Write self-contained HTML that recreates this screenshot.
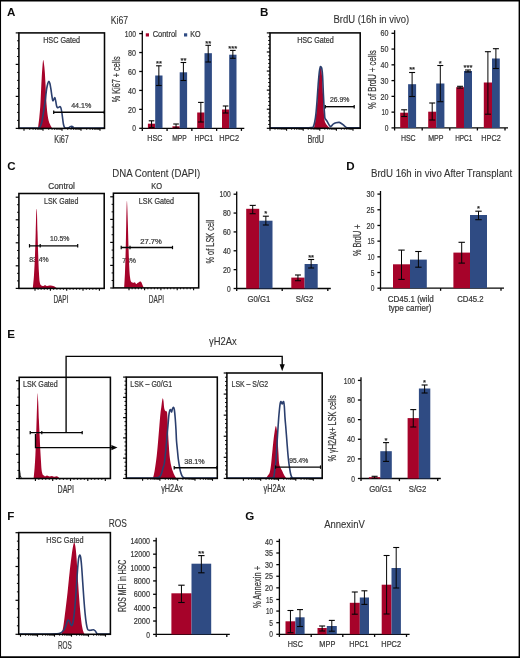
<!DOCTYPE html>
<html><head><meta charset="utf-8"><style>
html,body{margin:0;padding:0;background:#fff;}
body{position:relative;width:520px;height:658px;overflow:hidden;}
.ov{position:absolute;left:0;top:0;}
svg{display:block;font-family:"Liberation Sans", sans-serif;will-change:transform;filter:blur(0.3px);}
svg.ov{filter:none;}
</style></head><body>
<svg width="520" height="658" viewBox="0 0 520 658">
<rect x="0" y="0" width="520" height="658" fill="#fff"/>
<text x="6.90" y="16.20" font-size="11.6" text-anchor="start" fill="#0e0e0e" font-weight="bold">A</text>
<path d="M38.00,128.40 C38.22,126.60 38.92,121.33 39.30,117.60 C39.68,113.87 40.02,110.27 40.30,106.00 C40.58,101.73 40.77,96.67 41.00,92.00 C41.23,87.33 41.45,82.33 41.70,78.00 C41.95,73.67 42.25,68.98 42.50,66.00 C42.75,63.02 42.95,60.43 43.20,60.10 C43.45,59.77 43.73,62.02 44.00,64.00 C44.27,65.98 44.57,69.00 44.80,72.00 C45.03,75.00 45.22,78.67 45.40,82.00 C45.58,85.33 45.70,88.17 45.90,92.00 C46.10,95.83 46.32,101.17 46.60,105.00 C46.88,108.83 47.22,112.25 47.60,115.00 C47.98,117.75 48.43,119.80 48.90,121.50 C49.37,123.20 49.83,124.05 50.40,125.20 C50.97,126.35 51.98,127.87 52.30,128.40 Z" fill="#a6032a"/>
<path d="M19.60,128.00 C22.42,128.00 33.18,128.07 36.50,128.00 C39.82,127.93 38.65,128.43 39.50,127.60 C40.35,126.77 40.93,125.60 41.60,123.00 C42.27,120.40 42.90,115.73 43.50,112.00 C44.10,108.27 44.68,104.40 45.20,100.60 C45.72,96.80 46.17,92.05 46.60,89.20 C47.03,86.35 47.42,84.80 47.80,83.50 C48.18,82.20 48.55,81.40 48.90,81.40 C49.25,81.40 49.57,82.23 49.90,83.50 C50.23,84.77 50.57,86.92 50.90,89.00 C51.23,91.08 51.58,94.07 51.90,96.00 C52.22,97.93 52.48,100.03 52.80,100.60 C53.12,101.17 53.45,99.88 53.80,99.40 C54.15,98.92 54.57,97.35 54.90,97.70 C55.23,98.05 55.52,100.12 55.80,101.50 C56.08,102.88 56.33,104.98 56.60,106.00 C56.87,107.02 57.10,107.37 57.40,107.60 C57.70,107.83 58.07,107.52 58.40,107.40 C58.73,107.28 59.08,107.02 59.40,106.90 C59.72,106.78 60.02,106.42 60.30,106.70 C60.58,106.98 60.83,107.55 61.10,108.60 C61.37,109.65 61.63,111.27 61.90,113.00 C62.17,114.73 62.43,117.08 62.70,119.00 C62.97,120.92 63.18,123.07 63.50,124.50 C63.82,125.93 64.10,127.02 64.60,127.60 C65.10,128.18 65.85,127.97 66.50,128.00 C67.15,128.03 67.87,128.03 68.50,127.80 C69.13,127.57 69.77,126.87 70.30,126.60 C70.83,126.33 71.25,126.17 71.70,126.20 C72.15,126.23 72.55,126.50 73.00,126.80 C73.45,127.10 69.23,127.80 74.40,128.00 C79.57,128.20 99.07,128.00 104.00,128.00" fill="none" stroke="#2b3f6e" stroke-width="1.6" stroke-linejoin="round" stroke-linecap="round"/>
<rect x="18.90" y="32.90" width="85.60" height="95.50" fill="none" stroke="#050505" stroke-width="1.55"/>
<line x1="15.70" y1="32.90" x2="18.90" y2="32.90" stroke="#050505" stroke-width="1.2"/>
<line x1="17.10" y1="40.77" x2="18.90" y2="40.77" stroke="#050505" stroke-width="1.0"/>
<line x1="17.10" y1="48.65" x2="18.90" y2="48.65" stroke="#050505" stroke-width="1.0"/>
<line x1="17.10" y1="56.53" x2="18.90" y2="56.53" stroke="#050505" stroke-width="1.0"/>
<line x1="15.70" y1="64.40" x2="18.90" y2="64.40" stroke="#050505" stroke-width="1.2"/>
<line x1="17.10" y1="72.40" x2="18.90" y2="72.40" stroke="#050505" stroke-width="1.0"/>
<line x1="17.10" y1="80.40" x2="18.90" y2="80.40" stroke="#050505" stroke-width="1.0"/>
<line x1="17.10" y1="88.40" x2="18.90" y2="88.40" stroke="#050505" stroke-width="1.0"/>
<line x1="15.70" y1="96.40" x2="18.90" y2="96.40" stroke="#050505" stroke-width="1.2"/>
<line x1="17.10" y1="104.40" x2="18.90" y2="104.40" stroke="#050505" stroke-width="1.0"/>
<line x1="17.10" y1="112.40" x2="18.90" y2="112.40" stroke="#050505" stroke-width="1.0"/>
<line x1="17.10" y1="120.40" x2="18.90" y2="120.40" stroke="#050505" stroke-width="1.0"/>
<line x1="15.70" y1="128.40" x2="18.90" y2="128.40" stroke="#050505" stroke-width="1.2"/>
<line x1="24.00" y1="128.40" x2="24.00" y2="130.80" stroke="#050505" stroke-width="1.1"/>
<line x1="43.00" y1="128.40" x2="43.00" y2="130.80" stroke="#050505" stroke-width="1.1"/>
<line x1="62.00" y1="128.40" x2="62.00" y2="130.80" stroke="#050505" stroke-width="1.1"/>
<line x1="81.00" y1="128.40" x2="81.00" y2="130.80" stroke="#050505" stroke-width="1.1"/>
<line x1="100.00" y1="128.40" x2="100.00" y2="130.80" stroke="#050505" stroke-width="1.1"/>
<line x1="29.72" y1="128.40" x2="29.72" y2="129.80" stroke="#050505" stroke-width="0.9"/>
<line x1="33.07" y1="128.40" x2="33.07" y2="129.80" stroke="#050505" stroke-width="0.9"/>
<line x1="35.44" y1="128.40" x2="35.44" y2="129.80" stroke="#050505" stroke-width="0.9"/>
<line x1="37.28" y1="128.40" x2="37.28" y2="129.80" stroke="#050505" stroke-width="0.9"/>
<line x1="38.78" y1="128.40" x2="38.78" y2="129.80" stroke="#050505" stroke-width="0.9"/>
<line x1="40.06" y1="128.40" x2="40.06" y2="129.80" stroke="#050505" stroke-width="0.9"/>
<line x1="41.16" y1="128.40" x2="41.16" y2="129.80" stroke="#050505" stroke-width="0.9"/>
<line x1="42.13" y1="128.40" x2="42.13" y2="129.80" stroke="#050505" stroke-width="0.9"/>
<line x1="48.72" y1="128.40" x2="48.72" y2="129.80" stroke="#050505" stroke-width="0.9"/>
<line x1="52.07" y1="128.40" x2="52.07" y2="129.80" stroke="#050505" stroke-width="0.9"/>
<line x1="54.44" y1="128.40" x2="54.44" y2="129.80" stroke="#050505" stroke-width="0.9"/>
<line x1="56.28" y1="128.40" x2="56.28" y2="129.80" stroke="#050505" stroke-width="0.9"/>
<line x1="57.78" y1="128.40" x2="57.78" y2="129.80" stroke="#050505" stroke-width="0.9"/>
<line x1="59.06" y1="128.40" x2="59.06" y2="129.80" stroke="#050505" stroke-width="0.9"/>
<line x1="60.16" y1="128.40" x2="60.16" y2="129.80" stroke="#050505" stroke-width="0.9"/>
<line x1="61.13" y1="128.40" x2="61.13" y2="129.80" stroke="#050505" stroke-width="0.9"/>
<line x1="67.72" y1="128.40" x2="67.72" y2="129.80" stroke="#050505" stroke-width="0.9"/>
<line x1="71.07" y1="128.40" x2="71.07" y2="129.80" stroke="#050505" stroke-width="0.9"/>
<line x1="73.44" y1="128.40" x2="73.44" y2="129.80" stroke="#050505" stroke-width="0.9"/>
<line x1="75.28" y1="128.40" x2="75.28" y2="129.80" stroke="#050505" stroke-width="0.9"/>
<line x1="76.78" y1="128.40" x2="76.78" y2="129.80" stroke="#050505" stroke-width="0.9"/>
<line x1="78.06" y1="128.40" x2="78.06" y2="129.80" stroke="#050505" stroke-width="0.9"/>
<line x1="79.16" y1="128.40" x2="79.16" y2="129.80" stroke="#050505" stroke-width="0.9"/>
<line x1="80.13" y1="128.40" x2="80.13" y2="129.80" stroke="#050505" stroke-width="0.9"/>
<line x1="86.72" y1="128.40" x2="86.72" y2="129.80" stroke="#050505" stroke-width="0.9"/>
<line x1="90.07" y1="128.40" x2="90.07" y2="129.80" stroke="#050505" stroke-width="0.9"/>
<line x1="92.44" y1="128.40" x2="92.44" y2="129.80" stroke="#050505" stroke-width="0.9"/>
<line x1="94.28" y1="128.40" x2="94.28" y2="129.80" stroke="#050505" stroke-width="0.9"/>
<line x1="95.78" y1="128.40" x2="95.78" y2="129.80" stroke="#050505" stroke-width="0.9"/>
<line x1="97.06" y1="128.40" x2="97.06" y2="129.80" stroke="#050505" stroke-width="0.9"/>
<line x1="98.16" y1="128.40" x2="98.16" y2="129.80" stroke="#050505" stroke-width="0.9"/>
<line x1="99.13" y1="128.40" x2="99.13" y2="129.80" stroke="#050505" stroke-width="0.9"/>
<text x="61.65" y="43.10" font-size="8.3" text-anchor="middle" fill="#3a3a3a" stroke="#3a3a3a" stroke-width="0.24" font-weight="normal" textLength="37.00" lengthAdjust="spacingAndGlyphs">HSC Gated</text>
<line x1="53.70" y1="112.20" x2="104.30" y2="112.20" stroke="#050505" stroke-width="1.35"/>
<line x1="53.70" y1="110.50" x2="53.70" y2="113.90" stroke="#050505" stroke-width="1.2"/>
<line x1="104.30" y1="110.50" x2="104.30" y2="113.90" stroke="#050505" stroke-width="1.2"/>
<text x="81.25" y="107.60" font-size="7.6" text-anchor="middle" fill="#3a3a3a" stroke="#3a3a3a" stroke-width="0.24" font-weight="normal" textLength="20.20" lengthAdjust="spacingAndGlyphs">44.1%</text>
<text x="61.60" y="142.70" font-size="10.5" text-anchor="middle" fill="#3a3a3a" stroke="#3a3a3a" stroke-width="0.24" font-weight="normal" textLength="14.50" lengthAdjust="spacingAndGlyphs">Ki67</text>
<text x="119.45" y="23.70" font-size="10.0" text-anchor="middle" fill="#333333" stroke="#333333" stroke-width="0.1" font-weight="normal" textLength="17.40" lengthAdjust="spacingAndGlyphs">Ki67</text>
<line x1="142.30" y1="30.80" x2="142.30" y2="128.30" stroke="#050505" stroke-width="1.3"/>
<line x1="139.20" y1="128.30" x2="142.30" y2="128.30" stroke="#050505" stroke-width="1.3"/>
<text x="136.00" y="131.46" font-size="9.2" text-anchor="end" fill="#3a3a3a" stroke="#3a3a3a" stroke-width="0.24" font-weight="normal" textLength="3.70" lengthAdjust="spacingAndGlyphs">0</text>
<line x1="139.20" y1="109.36" x2="142.30" y2="109.36" stroke="#050505" stroke-width="1.3"/>
<text x="136.00" y="112.52" font-size="9.2" text-anchor="end" fill="#3a3a3a" stroke="#3a3a3a" stroke-width="0.24" font-weight="normal" textLength="7.90" lengthAdjust="spacingAndGlyphs">20</text>
<line x1="139.20" y1="90.42" x2="142.30" y2="90.42" stroke="#050505" stroke-width="1.3"/>
<text x="136.00" y="93.58" font-size="9.2" text-anchor="end" fill="#3a3a3a" stroke="#3a3a3a" stroke-width="0.24" font-weight="normal" textLength="7.90" lengthAdjust="spacingAndGlyphs">40</text>
<line x1="139.20" y1="71.48" x2="142.30" y2="71.48" stroke="#050505" stroke-width="1.3"/>
<text x="136.00" y="74.64" font-size="9.2" text-anchor="end" fill="#3a3a3a" stroke="#3a3a3a" stroke-width="0.24" font-weight="normal" textLength="7.90" lengthAdjust="spacingAndGlyphs">60</text>
<line x1="139.20" y1="52.54" x2="142.30" y2="52.54" stroke="#050505" stroke-width="1.3"/>
<text x="136.00" y="55.70" font-size="9.2" text-anchor="end" fill="#3a3a3a" stroke="#3a3a3a" stroke-width="0.24" font-weight="normal" textLength="7.90" lengthAdjust="spacingAndGlyphs">80</text>
<line x1="139.20" y1="33.60" x2="142.30" y2="33.60" stroke="#050505" stroke-width="1.3"/>
<text x="136.00" y="36.76" font-size="9.2" text-anchor="end" fill="#3a3a3a" stroke="#3a3a3a" stroke-width="0.24" font-weight="normal" textLength="11.20" lengthAdjust="spacingAndGlyphs">100</text>
<line x1="142.30" y1="128.30" x2="244.30" y2="128.30" stroke="#050505" stroke-width="1.3"/>
<line x1="142.30" y1="128.30" x2="142.30" y2="130.90" stroke="#050505" stroke-width="1.3"/>
<line x1="167.08" y1="128.30" x2="167.08" y2="130.90" stroke="#050505" stroke-width="1.3"/>
<line x1="191.86" y1="128.30" x2="191.86" y2="130.90" stroke="#050505" stroke-width="1.3"/>
<line x1="216.64" y1="128.30" x2="216.64" y2="130.90" stroke="#050505" stroke-width="1.3"/>
<line x1="241.42" y1="128.30" x2="241.42" y2="130.90" stroke="#050505" stroke-width="1.3"/>
<text x="0" y="0" font-size="10.3" text-anchor="middle" fill="#3a3a3a" stroke="#3a3a3a" stroke-width="0.24" textLength="45.70" lengthAdjust="spacingAndGlyphs" transform="translate(119.60 79.35) rotate(-90)">% Ki67 + cells</text>
<rect x="147.90" y="123.70" width="7.30" height="4.60" fill="#a6032a"/>
<line x1="151.55" y1="120.80" x2="151.55" y2="127.50" stroke="#050505" stroke-width="1.0"/>
<line x1="148.75" y1="120.80" x2="154.35" y2="120.80" stroke="#050505" stroke-width="1.1"/>
<line x1="148.75" y1="127.50" x2="154.35" y2="127.50" stroke="#050505" stroke-width="1.1"/>
<rect x="155.20" y="75.50" width="7.30" height="52.80" fill="#2f4b83"/>
<line x1="158.85" y1="65.80" x2="158.85" y2="85.50" stroke="#050505" stroke-width="1.0"/>
<line x1="156.05" y1="65.80" x2="161.65" y2="65.80" stroke="#050505" stroke-width="1.1"/>
<line x1="156.05" y1="85.50" x2="161.65" y2="85.50" stroke="#050505" stroke-width="1.1"/>
<rect x="172.40" y="126.30" width="7.30" height="2.00" fill="#a6032a"/>
<line x1="176.05" y1="124.00" x2="176.05" y2="128.00" stroke="#050505" stroke-width="1.0"/>
<line x1="173.25" y1="124.00" x2="178.85" y2="124.00" stroke="#050505" stroke-width="1.1"/>
<line x1="173.25" y1="128.00" x2="178.85" y2="128.00" stroke="#050505" stroke-width="1.1"/>
<rect x="179.70" y="72.30" width="7.40" height="56.00" fill="#2f4b83"/>
<line x1="183.40" y1="62.50" x2="183.40" y2="80.50" stroke="#050505" stroke-width="1.0"/>
<line x1="180.60" y1="62.50" x2="186.20" y2="62.50" stroke="#050505" stroke-width="1.1"/>
<line x1="180.60" y1="80.50" x2="186.20" y2="80.50" stroke="#050505" stroke-width="1.1"/>
<rect x="197.20" y="112.50" width="7.30" height="15.80" fill="#a6032a"/>
<line x1="200.85" y1="102.40" x2="200.85" y2="122.00" stroke="#050505" stroke-width="1.0"/>
<line x1="198.05" y1="102.40" x2="203.65" y2="102.40" stroke="#050505" stroke-width="1.1"/>
<line x1="198.05" y1="122.00" x2="203.65" y2="122.00" stroke="#050505" stroke-width="1.1"/>
<rect x="204.50" y="53.20" width="7.40" height="75.10" fill="#2f4b83"/>
<line x1="208.20" y1="45.30" x2="208.20" y2="62.00" stroke="#050505" stroke-width="1.0"/>
<line x1="205.40" y1="45.30" x2="211.00" y2="45.30" stroke="#050505" stroke-width="1.1"/>
<line x1="205.40" y1="62.00" x2="211.00" y2="62.00" stroke="#050505" stroke-width="1.1"/>
<rect x="222.00" y="109.50" width="7.20" height="18.80" fill="#a6032a"/>
<line x1="225.60" y1="106.00" x2="225.60" y2="113.00" stroke="#050505" stroke-width="1.0"/>
<line x1="222.80" y1="106.00" x2="228.40" y2="106.00" stroke="#050505" stroke-width="1.1"/>
<line x1="222.80" y1="113.00" x2="228.40" y2="113.00" stroke="#050505" stroke-width="1.1"/>
<rect x="229.20" y="54.70" width="7.30" height="73.60" fill="#2f4b83"/>
<line x1="232.85" y1="50.40" x2="232.85" y2="58.30" stroke="#050505" stroke-width="1.0"/>
<line x1="230.05" y1="50.40" x2="235.65" y2="50.40" stroke="#050505" stroke-width="1.1"/>
<line x1="230.05" y1="58.30" x2="235.65" y2="58.30" stroke="#050505" stroke-width="1.1"/>
<text x="158.90" y="65.95" font-size="7.6" text-anchor="middle" fill="#222" stroke="#222" stroke-width="0.24" font-weight="normal">**</text>
<text x="183.40" y="62.95" font-size="7.6" text-anchor="middle" fill="#222" stroke="#222" stroke-width="0.24" font-weight="normal">**</text>
<text x="208.20" y="45.75" font-size="7.6" text-anchor="middle" fill="#222" stroke="#222" stroke-width="0.24" font-weight="normal">**</text>
<text x="232.80" y="50.75" font-size="7.6" text-anchor="middle" fill="#222" stroke="#222" stroke-width="0.24" font-weight="normal">***</text>
<rect x="145.80" y="33.30" width="3.20" height="3.20" fill="#a6032a"/>
<text x="164.70" y="37.40" font-size="8.3" text-anchor="middle" fill="#3a3a3a" stroke="#3a3a3a" stroke-width="0.24" font-weight="normal" textLength="24.10" lengthAdjust="spacingAndGlyphs">Control</text>
<rect x="184.00" y="33.30" width="3.20" height="3.20" fill="#2f4b83"/>
<text x="195.30" y="37.40" font-size="8.3" text-anchor="middle" fill="#3a3a3a" stroke="#3a3a3a" stroke-width="0.24" font-weight="normal" textLength="10.30" lengthAdjust="spacingAndGlyphs">KO</text>
<text x="154.85" y="140.90" font-size="8.3" text-anchor="middle" fill="#3a3a3a" stroke="#3a3a3a" stroke-width="0.24" font-weight="normal" textLength="15.00" lengthAdjust="spacingAndGlyphs">HSC</text>
<text x="179.40" y="140.90" font-size="8.3" text-anchor="middle" fill="#3a3a3a" stroke="#3a3a3a" stroke-width="0.24" font-weight="normal" textLength="14.50" lengthAdjust="spacingAndGlyphs">MPP</text>
<text x="203.90" y="140.90" font-size="8.3" text-anchor="middle" fill="#3a3a3a" stroke="#3a3a3a" stroke-width="0.24" font-weight="normal" textLength="18.70" lengthAdjust="spacingAndGlyphs">HPC1</text>
<text x="229.20" y="140.90" font-size="8.3" text-anchor="middle" fill="#3a3a3a" stroke="#3a3a3a" stroke-width="0.24" font-weight="normal" textLength="19.70" lengthAdjust="spacingAndGlyphs">HPC2</text>
<text x="260.00" y="16.20" font-size="11.6" text-anchor="start" fill="#0e0e0e" font-weight="bold">B</text>
<path d="M313.90,128.20 C314.10,127.25 314.78,124.37 315.10,122.50 C315.42,120.63 315.48,119.82 315.80,117.00 C316.12,114.18 316.62,110.35 317.00,105.60 C317.38,100.85 317.78,93.27 318.10,88.50 C318.42,83.73 318.60,80.17 318.90,77.00 C319.20,73.83 319.60,71.10 319.90,69.50 C320.20,67.90 320.45,67.40 320.70,67.40 C320.95,67.40 321.17,67.90 321.40,69.50 C321.63,71.10 321.90,74.25 322.10,77.00 C322.30,79.75 322.45,83.13 322.60,86.00 C322.75,88.87 322.80,89.98 323.00,94.20 C323.20,98.42 323.57,107.13 323.80,111.30 C324.03,115.47 324.13,117.28 324.40,119.20 C324.67,121.12 325.00,121.83 325.40,122.80 C325.80,123.77 326.22,124.27 326.80,125.00 C327.38,125.73 328.37,126.67 328.90,127.20 C329.43,127.73 329.82,128.03 330.00,128.20 Z" fill="#a6032a"/>
<path d="M270.60,127.80 C275.50,127.80 293.18,127.83 300.00,127.80 C306.82,127.77 309.27,127.82 311.50,127.60 C313.73,127.38 312.87,127.43 313.40,126.50 C313.93,125.57 314.28,124.08 314.70,122.00 C315.12,119.92 315.50,117.67 315.90,114.00 C316.30,110.33 316.72,105.00 317.10,100.00 C317.48,95.00 317.83,88.67 318.20,84.00 C318.57,79.33 318.97,74.80 319.30,72.00 C319.63,69.20 319.92,68.07 320.20,67.20 C320.48,66.33 320.73,66.58 321.00,66.80 C321.27,67.02 321.53,66.97 321.80,68.50 C322.07,70.03 322.33,71.72 322.60,76.00 C322.87,80.28 323.17,89.20 323.40,94.20 C323.63,99.20 323.82,102.87 324.00,106.00 C324.18,109.13 324.35,111.00 324.50,113.00 C324.65,115.00 324.65,116.87 324.90,118.00 C325.15,119.13 325.62,119.22 326.00,119.80 C326.38,120.38 326.78,120.83 327.20,121.50 C327.62,122.17 328.12,123.13 328.50,123.80 C328.88,124.47 329.15,125.03 329.50,125.50 C329.85,125.97 330.22,126.58 330.60,126.60 C330.98,126.62 331.32,126.07 331.80,125.60 C332.28,125.13 332.80,124.27 333.50,123.80 C334.20,123.33 335.05,123.03 336.00,122.80 C336.95,122.57 338.37,122.33 339.20,122.40 C340.03,122.47 340.43,122.88 341.00,123.20 C341.57,123.52 342.03,123.85 342.60,124.30 C343.17,124.75 343.83,125.42 344.40,125.90 C344.97,126.38 345.45,126.88 346.00,127.20 C346.55,127.52 345.43,127.70 347.70,127.80 C349.97,127.90 357.62,127.80 359.60,127.80" fill="none" stroke="#2b3f6e" stroke-width="1.6" stroke-linejoin="round" stroke-linecap="round"/>
<rect x="270.00" y="32.90" width="90.20" height="95.40" fill="none" stroke="#050505" stroke-width="1.55"/>
<line x1="266.80" y1="32.90" x2="270.00" y2="32.90" stroke="#050505" stroke-width="1.2"/>
<line x1="268.20" y1="36.72" x2="270.00" y2="36.72" stroke="#050505" stroke-width="1.0"/>
<line x1="268.20" y1="40.53" x2="270.00" y2="40.53" stroke="#050505" stroke-width="1.0"/>
<line x1="268.20" y1="44.35" x2="270.00" y2="44.35" stroke="#050505" stroke-width="1.0"/>
<line x1="268.20" y1="48.16" x2="270.00" y2="48.16" stroke="#050505" stroke-width="1.0"/>
<line x1="266.80" y1="51.98" x2="270.00" y2="51.98" stroke="#050505" stroke-width="1.2"/>
<line x1="268.20" y1="55.80" x2="270.00" y2="55.80" stroke="#050505" stroke-width="1.0"/>
<line x1="268.20" y1="59.61" x2="270.00" y2="59.61" stroke="#050505" stroke-width="1.0"/>
<line x1="268.20" y1="63.43" x2="270.00" y2="63.43" stroke="#050505" stroke-width="1.0"/>
<line x1="268.20" y1="67.24" x2="270.00" y2="67.24" stroke="#050505" stroke-width="1.0"/>
<line x1="266.80" y1="71.06" x2="270.00" y2="71.06" stroke="#050505" stroke-width="1.2"/>
<line x1="268.20" y1="74.88" x2="270.00" y2="74.88" stroke="#050505" stroke-width="1.0"/>
<line x1="268.20" y1="78.69" x2="270.00" y2="78.69" stroke="#050505" stroke-width="1.0"/>
<line x1="268.20" y1="82.51" x2="270.00" y2="82.51" stroke="#050505" stroke-width="1.0"/>
<line x1="268.20" y1="86.32" x2="270.00" y2="86.32" stroke="#050505" stroke-width="1.0"/>
<line x1="266.80" y1="90.14" x2="270.00" y2="90.14" stroke="#050505" stroke-width="1.2"/>
<line x1="268.20" y1="93.96" x2="270.00" y2="93.96" stroke="#050505" stroke-width="1.0"/>
<line x1="268.20" y1="97.77" x2="270.00" y2="97.77" stroke="#050505" stroke-width="1.0"/>
<line x1="268.20" y1="101.59" x2="270.00" y2="101.59" stroke="#050505" stroke-width="1.0"/>
<line x1="268.20" y1="105.40" x2="270.00" y2="105.40" stroke="#050505" stroke-width="1.0"/>
<line x1="266.80" y1="109.22" x2="270.00" y2="109.22" stroke="#050505" stroke-width="1.2"/>
<line x1="268.20" y1="113.04" x2="270.00" y2="113.04" stroke="#050505" stroke-width="1.0"/>
<line x1="268.20" y1="116.85" x2="270.00" y2="116.85" stroke="#050505" stroke-width="1.0"/>
<line x1="268.20" y1="120.67" x2="270.00" y2="120.67" stroke="#050505" stroke-width="1.0"/>
<line x1="268.20" y1="124.48" x2="270.00" y2="124.48" stroke="#050505" stroke-width="1.0"/>
<line x1="266.80" y1="128.30" x2="270.00" y2="128.30" stroke="#050505" stroke-width="1.2"/>
<line x1="270.00" y1="128.30" x2="270.00" y2="130.70" stroke="#050505" stroke-width="1.1"/>
<line x1="286.60" y1="128.30" x2="286.60" y2="130.70" stroke="#050505" stroke-width="1.1"/>
<line x1="303.20" y1="128.30" x2="303.20" y2="130.70" stroke="#050505" stroke-width="1.1"/>
<line x1="319.80" y1="128.30" x2="319.80" y2="130.70" stroke="#050505" stroke-width="1.1"/>
<line x1="336.40" y1="128.30" x2="336.40" y2="130.70" stroke="#050505" stroke-width="1.1"/>
<line x1="353.00" y1="128.30" x2="353.00" y2="130.70" stroke="#050505" stroke-width="1.1"/>
<line x1="275.00" y1="128.30" x2="275.00" y2="129.70" stroke="#050505" stroke-width="0.9"/>
<line x1="277.92" y1="128.30" x2="277.92" y2="129.70" stroke="#050505" stroke-width="0.9"/>
<line x1="279.99" y1="128.30" x2="279.99" y2="129.70" stroke="#050505" stroke-width="0.9"/>
<line x1="281.60" y1="128.30" x2="281.60" y2="129.70" stroke="#050505" stroke-width="0.9"/>
<line x1="282.92" y1="128.30" x2="282.92" y2="129.70" stroke="#050505" stroke-width="0.9"/>
<line x1="284.03" y1="128.30" x2="284.03" y2="129.70" stroke="#050505" stroke-width="0.9"/>
<line x1="284.99" y1="128.30" x2="284.99" y2="129.70" stroke="#050505" stroke-width="0.9"/>
<line x1="285.84" y1="128.30" x2="285.84" y2="129.70" stroke="#050505" stroke-width="0.9"/>
<line x1="291.60" y1="128.30" x2="291.60" y2="129.70" stroke="#050505" stroke-width="0.9"/>
<line x1="294.52" y1="128.30" x2="294.52" y2="129.70" stroke="#050505" stroke-width="0.9"/>
<line x1="296.59" y1="128.30" x2="296.59" y2="129.70" stroke="#050505" stroke-width="0.9"/>
<line x1="298.20" y1="128.30" x2="298.20" y2="129.70" stroke="#050505" stroke-width="0.9"/>
<line x1="299.52" y1="128.30" x2="299.52" y2="129.70" stroke="#050505" stroke-width="0.9"/>
<line x1="300.63" y1="128.30" x2="300.63" y2="129.70" stroke="#050505" stroke-width="0.9"/>
<line x1="301.59" y1="128.30" x2="301.59" y2="129.70" stroke="#050505" stroke-width="0.9"/>
<line x1="302.44" y1="128.30" x2="302.44" y2="129.70" stroke="#050505" stroke-width="0.9"/>
<line x1="308.20" y1="128.30" x2="308.20" y2="129.70" stroke="#050505" stroke-width="0.9"/>
<line x1="311.12" y1="128.30" x2="311.12" y2="129.70" stroke="#050505" stroke-width="0.9"/>
<line x1="313.19" y1="128.30" x2="313.19" y2="129.70" stroke="#050505" stroke-width="0.9"/>
<line x1="314.80" y1="128.30" x2="314.80" y2="129.70" stroke="#050505" stroke-width="0.9"/>
<line x1="316.12" y1="128.30" x2="316.12" y2="129.70" stroke="#050505" stroke-width="0.9"/>
<line x1="317.23" y1="128.30" x2="317.23" y2="129.70" stroke="#050505" stroke-width="0.9"/>
<line x1="318.19" y1="128.30" x2="318.19" y2="129.70" stroke="#050505" stroke-width="0.9"/>
<line x1="319.04" y1="128.30" x2="319.04" y2="129.70" stroke="#050505" stroke-width="0.9"/>
<line x1="324.80" y1="128.30" x2="324.80" y2="129.70" stroke="#050505" stroke-width="0.9"/>
<line x1="327.72" y1="128.30" x2="327.72" y2="129.70" stroke="#050505" stroke-width="0.9"/>
<line x1="329.79" y1="128.30" x2="329.79" y2="129.70" stroke="#050505" stroke-width="0.9"/>
<line x1="331.40" y1="128.30" x2="331.40" y2="129.70" stroke="#050505" stroke-width="0.9"/>
<line x1="332.72" y1="128.30" x2="332.72" y2="129.70" stroke="#050505" stroke-width="0.9"/>
<line x1="333.83" y1="128.30" x2="333.83" y2="129.70" stroke="#050505" stroke-width="0.9"/>
<line x1="334.79" y1="128.30" x2="334.79" y2="129.70" stroke="#050505" stroke-width="0.9"/>
<line x1="335.64" y1="128.30" x2="335.64" y2="129.70" stroke="#050505" stroke-width="0.9"/>
<line x1="341.40" y1="128.30" x2="341.40" y2="129.70" stroke="#050505" stroke-width="0.9"/>
<line x1="344.32" y1="128.30" x2="344.32" y2="129.70" stroke="#050505" stroke-width="0.9"/>
<line x1="346.39" y1="128.30" x2="346.39" y2="129.70" stroke="#050505" stroke-width="0.9"/>
<line x1="348.00" y1="128.30" x2="348.00" y2="129.70" stroke="#050505" stroke-width="0.9"/>
<line x1="349.32" y1="128.30" x2="349.32" y2="129.70" stroke="#050505" stroke-width="0.9"/>
<line x1="350.43" y1="128.30" x2="350.43" y2="129.70" stroke="#050505" stroke-width="0.9"/>
<line x1="351.39" y1="128.30" x2="351.39" y2="129.70" stroke="#050505" stroke-width="0.9"/>
<line x1="352.24" y1="128.30" x2="352.24" y2="129.70" stroke="#050505" stroke-width="0.9"/>
<text x="315.50" y="43.10" font-size="8.3" text-anchor="middle" fill="#3a3a3a" stroke="#3a3a3a" stroke-width="0.24" font-weight="normal" textLength="36.70" lengthAdjust="spacingAndGlyphs">HSC Gated</text>
<line x1="325.30" y1="106.70" x2="354.20" y2="106.70" stroke="#050505" stroke-width="1.35"/>
<line x1="325.30" y1="105.00" x2="325.30" y2="108.40" stroke="#050505" stroke-width="1.2"/>
<line x1="354.20" y1="105.00" x2="354.20" y2="108.40" stroke="#050505" stroke-width="1.2"/>
<text x="339.70" y="101.60" font-size="7.6" text-anchor="middle" fill="#3a3a3a" stroke="#3a3a3a" stroke-width="0.24" font-weight="normal" textLength="19.50" lengthAdjust="spacingAndGlyphs">26.9%</text>
<text x="315.75" y="142.70" font-size="10.5" text-anchor="middle" fill="#3a3a3a" stroke="#3a3a3a" stroke-width="0.24" font-weight="normal" textLength="16.60" lengthAdjust="spacingAndGlyphs">BrdU</text>
<text x="371.35" y="23.40" font-size="10.0" text-anchor="middle" fill="#333333" stroke="#333333" stroke-width="0.1" font-weight="normal" textLength="75.80" lengthAdjust="spacingAndGlyphs">BrdU (16h in vivo)</text>
<line x1="394.60" y1="30.20" x2="394.60" y2="127.90" stroke="#050505" stroke-width="1.3"/>
<line x1="391.50" y1="127.90" x2="394.60" y2="127.90" stroke="#050505" stroke-width="1.3"/>
<text x="388.40" y="131.06" font-size="9.2" text-anchor="end" fill="#3a3a3a" stroke="#3a3a3a" stroke-width="0.24" font-weight="normal" textLength="3.70" lengthAdjust="spacingAndGlyphs">0</text>
<line x1="391.50" y1="112.13" x2="394.60" y2="112.13" stroke="#050505" stroke-width="1.3"/>
<text x="388.40" y="115.30" font-size="9.2" text-anchor="end" fill="#3a3a3a" stroke="#3a3a3a" stroke-width="0.24" font-weight="normal" textLength="7.00" lengthAdjust="spacingAndGlyphs">10</text>
<line x1="391.50" y1="96.37" x2="394.60" y2="96.37" stroke="#050505" stroke-width="1.3"/>
<text x="388.40" y="99.53" font-size="9.2" text-anchor="end" fill="#3a3a3a" stroke="#3a3a3a" stroke-width="0.24" font-weight="normal" textLength="7.90" lengthAdjust="spacingAndGlyphs">20</text>
<line x1="391.50" y1="80.60" x2="394.60" y2="80.60" stroke="#050505" stroke-width="1.3"/>
<text x="388.40" y="83.76" font-size="9.2" text-anchor="end" fill="#3a3a3a" stroke="#3a3a3a" stroke-width="0.24" font-weight="normal" textLength="7.90" lengthAdjust="spacingAndGlyphs">30</text>
<line x1="391.50" y1="64.83" x2="394.60" y2="64.83" stroke="#050505" stroke-width="1.3"/>
<text x="388.40" y="68.00" font-size="9.2" text-anchor="end" fill="#3a3a3a" stroke="#3a3a3a" stroke-width="0.24" font-weight="normal" textLength="7.90" lengthAdjust="spacingAndGlyphs">40</text>
<line x1="391.50" y1="49.07" x2="394.60" y2="49.07" stroke="#050505" stroke-width="1.3"/>
<text x="388.40" y="52.23" font-size="9.2" text-anchor="end" fill="#3a3a3a" stroke="#3a3a3a" stroke-width="0.24" font-weight="normal" textLength="7.90" lengthAdjust="spacingAndGlyphs">50</text>
<line x1="391.50" y1="33.30" x2="394.60" y2="33.30" stroke="#050505" stroke-width="1.3"/>
<text x="388.40" y="36.46" font-size="9.2" text-anchor="end" fill="#3a3a3a" stroke="#3a3a3a" stroke-width="0.24" font-weight="normal" textLength="7.90" lengthAdjust="spacingAndGlyphs">60</text>
<line x1="394.60" y1="127.90" x2="508.00" y2="127.90" stroke="#050505" stroke-width="1.3"/>
<line x1="394.60" y1="127.90" x2="394.60" y2="130.50" stroke="#050505" stroke-width="1.3"/>
<line x1="422.20" y1="127.90" x2="422.20" y2="130.50" stroke="#050505" stroke-width="1.3"/>
<line x1="449.80" y1="127.90" x2="449.80" y2="130.50" stroke="#050505" stroke-width="1.3"/>
<line x1="477.40" y1="127.90" x2="477.40" y2="130.50" stroke="#050505" stroke-width="1.3"/>
<line x1="505.00" y1="127.90" x2="505.00" y2="130.50" stroke="#050505" stroke-width="1.3"/>
<text x="0" y="0" font-size="10.3" text-anchor="middle" fill="#3a3a3a" stroke="#3a3a3a" stroke-width="0.24" textLength="59.00" lengthAdjust="spacingAndGlyphs" transform="translate(375.80 79.60) rotate(-90)">% of BrdU + cells</text>
<rect x="400.20" y="112.70" width="7.90" height="15.20" fill="#a6032a"/>
<line x1="404.15" y1="109.80" x2="404.15" y2="116.50" stroke="#050505" stroke-width="1.0"/>
<line x1="401.15" y1="109.80" x2="407.15" y2="109.80" stroke="#050505" stroke-width="1.1"/>
<line x1="401.15" y1="116.50" x2="407.15" y2="116.50" stroke="#050505" stroke-width="1.1"/>
<rect x="408.10" y="84.20" width="8.00" height="43.70" fill="#2f4b83"/>
<line x1="412.10" y1="72.50" x2="412.10" y2="96.50" stroke="#050505" stroke-width="1.0"/>
<line x1="409.10" y1="72.50" x2="415.10" y2="72.50" stroke="#050505" stroke-width="1.1"/>
<line x1="409.10" y1="96.50" x2="415.10" y2="96.50" stroke="#050505" stroke-width="1.1"/>
<rect x="428.20" y="111.70" width="8.00" height="16.20" fill="#a6032a"/>
<line x1="432.20" y1="103.00" x2="432.20" y2="120.00" stroke="#050505" stroke-width="1.0"/>
<line x1="429.20" y1="103.00" x2="435.20" y2="103.00" stroke="#050505" stroke-width="1.1"/>
<line x1="429.20" y1="120.00" x2="435.20" y2="120.00" stroke="#050505" stroke-width="1.1"/>
<rect x="436.20" y="83.50" width="8.20" height="44.40" fill="#2f4b83"/>
<line x1="440.30" y1="65.50" x2="440.30" y2="101.70" stroke="#050505" stroke-width="1.0"/>
<line x1="437.30" y1="65.50" x2="443.30" y2="65.50" stroke="#050505" stroke-width="1.1"/>
<line x1="437.30" y1="101.70" x2="443.30" y2="101.70" stroke="#050505" stroke-width="1.1"/>
<rect x="456.20" y="87.20" width="7.80" height="40.70" fill="#a6032a"/>
<line x1="460.10" y1="86.30" x2="460.10" y2="88.10" stroke="#050505" stroke-width="1.0"/>
<line x1="457.10" y1="86.30" x2="463.10" y2="86.30" stroke="#050505" stroke-width="1.1"/>
<line x1="457.10" y1="88.10" x2="463.10" y2="88.10" stroke="#050505" stroke-width="1.1"/>
<rect x="464.00" y="71.00" width="8.00" height="56.90" fill="#2f4b83"/>
<line x1="468.00" y1="70.00" x2="468.00" y2="72.00" stroke="#050505" stroke-width="1.0"/>
<line x1="465.00" y1="70.00" x2="471.00" y2="70.00" stroke="#050505" stroke-width="1.1"/>
<line x1="465.00" y1="72.00" x2="471.00" y2="72.00" stroke="#050505" stroke-width="1.1"/>
<rect x="483.80" y="82.50" width="8.20" height="45.40" fill="#a6032a"/>
<line x1="487.90" y1="51.70" x2="487.90" y2="114.20" stroke="#050505" stroke-width="1.0"/>
<line x1="484.90" y1="51.70" x2="490.90" y2="51.70" stroke="#050505" stroke-width="1.1"/>
<line x1="484.90" y1="114.20" x2="490.90" y2="114.20" stroke="#050505" stroke-width="1.1"/>
<rect x="492.00" y="58.50" width="7.80" height="69.40" fill="#2f4b83"/>
<line x1="495.90" y1="48.70" x2="495.90" y2="68.50" stroke="#050505" stroke-width="1.0"/>
<line x1="492.90" y1="48.70" x2="498.90" y2="48.70" stroke="#050505" stroke-width="1.1"/>
<line x1="492.90" y1="68.50" x2="498.90" y2="68.50" stroke="#050505" stroke-width="1.1"/>
<text x="412.10" y="71.95" font-size="7.6" text-anchor="middle" fill="#222" stroke="#222" stroke-width="0.24" font-weight="normal">**</text>
<text x="440.30" y="65.95" font-size="7.6" text-anchor="middle" fill="#222" stroke="#222" stroke-width="0.24" font-weight="normal">*</text>
<text x="468.00" y="70.15" font-size="7.6" text-anchor="middle" fill="#222" stroke="#222" stroke-width="0.24" font-weight="normal">***</text>
<text x="408.30" y="140.80" font-size="8.3" text-anchor="middle" fill="#3a3a3a" stroke="#3a3a3a" stroke-width="0.24" font-weight="normal" textLength="14.70" lengthAdjust="spacingAndGlyphs">HSC</text>
<text x="435.80" y="140.80" font-size="8.3" text-anchor="middle" fill="#3a3a3a" stroke="#3a3a3a" stroke-width="0.24" font-weight="normal" textLength="15.30" lengthAdjust="spacingAndGlyphs">MPP</text>
<text x="463.75" y="140.80" font-size="8.3" text-anchor="middle" fill="#3a3a3a" stroke="#3a3a3a" stroke-width="0.24" font-weight="normal" textLength="17.20" lengthAdjust="spacingAndGlyphs">HPC1</text>
<text x="491.05" y="140.80" font-size="8.3" text-anchor="middle" fill="#3a3a3a" stroke="#3a3a3a" stroke-width="0.24" font-weight="normal" textLength="19.40" lengthAdjust="spacingAndGlyphs">HPC2</text>
<text x="7.30" y="170.00" font-size="11.6" text-anchor="start" fill="#0e0e0e" font-weight="bold">C</text>
<text x="156.20" y="177.40" font-size="10.0" text-anchor="middle" fill="#333333" stroke="#333333" stroke-width="0.1" font-weight="normal" textLength="87.90" lengthAdjust="spacingAndGlyphs">DNA Content (DAPI)</text>
<text x="61.60" y="188.70" font-size="8.3" text-anchor="middle" fill="#3a3a3a" stroke="#3a3a3a" stroke-width="0.24" font-weight="normal" textLength="26.50" lengthAdjust="spacingAndGlyphs">Control</text>
<text x="38.90" y="262.30" font-size="7.6" text-anchor="middle" fill="#3a3a3a" stroke="#3a3a3a" stroke-width="0.24" font-weight="normal" textLength="19.50" lengthAdjust="spacingAndGlyphs">83.4%</text>
<path d="M32.80,288.40 C33.00,286.17 33.63,280.57 34.00,275.00 C34.37,269.43 34.72,262.17 35.00,255.00 C35.28,247.83 35.50,238.83 35.70,232.00 C35.90,225.17 36.05,217.87 36.20,214.00 C36.35,210.13 36.47,208.80 36.60,208.80 C36.73,208.80 36.85,210.13 37.00,214.00 C37.15,217.87 37.30,225.17 37.50,232.00 C37.70,238.83 37.97,248.33 38.20,255.00 C38.43,261.67 38.65,267.50 38.90,272.00 C39.15,276.50 39.35,279.78 39.70,282.00 C40.05,284.22 40.45,284.63 41.00,285.30 C41.55,285.97 42.33,286.02 43.00,286.00 C43.67,285.98 44.33,285.20 45.00,285.20 C45.67,285.20 46.25,285.93 47.00,286.00 C47.75,286.07 48.67,285.63 49.50,285.60 C50.33,285.57 51.17,285.63 52.00,285.80 C52.83,285.97 53.67,286.17 54.50,286.60 C55.33,287.03 56.58,288.10 57.00,288.40 Z" fill="#a6032a"/>
<rect x="18.90" y="193.50" width="85.30" height="94.90" fill="none" stroke="#050505" stroke-width="1.55"/>
<line x1="15.70" y1="197.20" x2="18.90" y2="197.20" stroke="#050505" stroke-width="1.2"/>
<line x1="17.10" y1="204.73" x2="18.90" y2="204.73" stroke="#050505" stroke-width="1.0"/>
<line x1="17.10" y1="212.27" x2="18.90" y2="212.27" stroke="#050505" stroke-width="1.0"/>
<line x1="15.70" y1="219.80" x2="18.90" y2="219.80" stroke="#050505" stroke-width="1.2"/>
<line x1="17.10" y1="227.47" x2="18.90" y2="227.47" stroke="#050505" stroke-width="1.0"/>
<line x1="17.10" y1="235.13" x2="18.90" y2="235.13" stroke="#050505" stroke-width="1.0"/>
<line x1="15.70" y1="242.80" x2="18.90" y2="242.80" stroke="#050505" stroke-width="1.2"/>
<line x1="17.10" y1="250.47" x2="18.90" y2="250.47" stroke="#050505" stroke-width="1.0"/>
<line x1="17.10" y1="258.13" x2="18.90" y2="258.13" stroke="#050505" stroke-width="1.0"/>
<line x1="15.70" y1="265.80" x2="18.90" y2="265.80" stroke="#050505" stroke-width="1.2"/>
<line x1="17.10" y1="273.33" x2="18.90" y2="273.33" stroke="#050505" stroke-width="1.0"/>
<line x1="17.10" y1="280.87" x2="18.90" y2="280.87" stroke="#050505" stroke-width="1.0"/>
<line x1="15.70" y1="288.40" x2="18.90" y2="288.40" stroke="#050505" stroke-width="1.2"/>
<line x1="35.00" y1="288.40" x2="35.00" y2="290.80" stroke="#050505" stroke-width="1.1"/>
<line x1="50.40" y1="288.40" x2="50.40" y2="290.80" stroke="#050505" stroke-width="1.1"/>
<line x1="66.70" y1="288.40" x2="66.70" y2="290.80" stroke="#050505" stroke-width="1.1"/>
<line x1="83.00" y1="288.40" x2="83.00" y2="290.80" stroke="#050505" stroke-width="1.1"/>
<line x1="99.40" y1="288.40" x2="99.40" y2="290.80" stroke="#050505" stroke-width="1.1"/>
<line x1="38.08" y1="288.40" x2="38.08" y2="289.80" stroke="#050505" stroke-width="0.9"/>
<line x1="41.16" y1="288.40" x2="41.16" y2="289.80" stroke="#050505" stroke-width="0.9"/>
<line x1="44.24" y1="288.40" x2="44.24" y2="289.80" stroke="#050505" stroke-width="0.9"/>
<line x1="47.32" y1="288.40" x2="47.32" y2="289.80" stroke="#050505" stroke-width="0.9"/>
<line x1="53.66" y1="288.40" x2="53.66" y2="289.80" stroke="#050505" stroke-width="0.9"/>
<line x1="56.92" y1="288.40" x2="56.92" y2="289.80" stroke="#050505" stroke-width="0.9"/>
<line x1="60.18" y1="288.40" x2="60.18" y2="289.80" stroke="#050505" stroke-width="0.9"/>
<line x1="63.44" y1="288.40" x2="63.44" y2="289.80" stroke="#050505" stroke-width="0.9"/>
<line x1="69.96" y1="288.40" x2="69.96" y2="289.80" stroke="#050505" stroke-width="0.9"/>
<line x1="73.22" y1="288.40" x2="73.22" y2="289.80" stroke="#050505" stroke-width="0.9"/>
<line x1="76.48" y1="288.40" x2="76.48" y2="289.80" stroke="#050505" stroke-width="0.9"/>
<line x1="79.74" y1="288.40" x2="79.74" y2="289.80" stroke="#050505" stroke-width="0.9"/>
<line x1="86.28" y1="288.40" x2="86.28" y2="289.80" stroke="#050505" stroke-width="0.9"/>
<line x1="89.56" y1="288.40" x2="89.56" y2="289.80" stroke="#050505" stroke-width="0.9"/>
<line x1="92.84" y1="288.40" x2="92.84" y2="289.80" stroke="#050505" stroke-width="0.9"/>
<line x1="96.12" y1="288.40" x2="96.12" y2="289.80" stroke="#050505" stroke-width="0.9"/>
<text x="61.20" y="203.80" font-size="8.3" text-anchor="middle" fill="#3a3a3a" stroke="#3a3a3a" stroke-width="0.24" font-weight="normal" textLength="34.30" lengthAdjust="spacingAndGlyphs">LSK Gated</text>
<line x1="29.50" y1="245.80" x2="77.70" y2="245.80" stroke="#050505" stroke-width="1.35"/>
<line x1="29.50" y1="244.10" x2="29.50" y2="247.50" stroke="#050505" stroke-width="1.2"/>
<line x1="40.20" y1="244.10" x2="40.20" y2="247.50" stroke="#050505" stroke-width="1.2"/>
<line x1="77.70" y1="244.10" x2="77.70" y2="247.50" stroke="#050505" stroke-width="1.2"/>
<text x="59.70" y="241.00" font-size="7.6" text-anchor="middle" fill="#3a3a3a" stroke="#3a3a3a" stroke-width="0.24" font-weight="normal" textLength="19.50" lengthAdjust="spacingAndGlyphs">10.5%</text>
<text x="60.95" y="302.70" font-size="10.5" text-anchor="middle" fill="#3a3a3a" stroke="#3a3a3a" stroke-width="0.24" font-weight="normal" textLength="15.00" lengthAdjust="spacingAndGlyphs">DAPI</text>
<text x="156.65" y="188.60" font-size="8.3" text-anchor="middle" fill="#3a3a3a" stroke="#3a3a3a" stroke-width="0.24" font-weight="normal" textLength="10.80" lengthAdjust="spacingAndGlyphs">KO</text>
<text x="129.10" y="262.50" font-size="7.6" text-anchor="middle" fill="#3a3a3a" stroke="#3a3a3a" stroke-width="0.24" font-weight="normal" textLength="13.90" lengthAdjust="spacingAndGlyphs">73%</text>
<path d="M124.20,287.80 C124.33,285.17 124.75,278.30 125.00,272.00 C125.25,265.70 125.50,257.83 125.70,250.00 C125.90,242.17 126.05,232.17 126.20,225.00 C126.35,217.83 126.47,210.98 126.60,207.00 C126.72,203.02 126.83,201.10 126.95,201.10 C127.07,201.10 127.14,203.02 127.30,207.00 C127.46,210.98 127.68,217.83 127.90,225.00 C128.12,232.17 128.37,242.83 128.60,250.00 C128.83,257.17 129.07,263.50 129.30,268.00 C129.53,272.50 129.72,274.73 130.00,277.00 C130.28,279.27 130.58,280.67 131.00,281.60 C131.42,282.53 132.00,282.40 132.50,282.60 C133.00,282.80 133.62,282.85 134.00,282.80 C134.38,282.75 134.42,282.10 134.80,282.30 C135.18,282.50 135.85,283.88 136.30,284.00 C136.75,284.12 137.12,283.27 137.50,283.00 C137.88,282.73 138.08,282.63 138.60,282.40 C139.12,282.17 140.10,281.53 140.60,281.60 C141.10,281.67 141.30,282.28 141.60,282.80 C141.90,283.32 142.02,283.87 142.40,284.70 C142.78,285.53 143.65,287.28 143.90,287.80 Z" fill="#a6032a"/>
<rect x="113.40" y="193.20" width="85.30" height="94.70" fill="none" stroke="#050505" stroke-width="1.55"/>
<line x1="110.20" y1="196.80" x2="113.40" y2="196.80" stroke="#050505" stroke-width="1.2"/>
<line x1="111.60" y1="204.33" x2="113.40" y2="204.33" stroke="#050505" stroke-width="1.0"/>
<line x1="111.60" y1="211.87" x2="113.40" y2="211.87" stroke="#050505" stroke-width="1.0"/>
<line x1="110.20" y1="219.40" x2="113.40" y2="219.40" stroke="#050505" stroke-width="1.2"/>
<line x1="111.60" y1="227.07" x2="113.40" y2="227.07" stroke="#050505" stroke-width="1.0"/>
<line x1="111.60" y1="234.73" x2="113.40" y2="234.73" stroke="#050505" stroke-width="1.0"/>
<line x1="110.20" y1="242.40" x2="113.40" y2="242.40" stroke="#050505" stroke-width="1.2"/>
<line x1="111.60" y1="250.07" x2="113.40" y2="250.07" stroke="#050505" stroke-width="1.0"/>
<line x1="111.60" y1="257.73" x2="113.40" y2="257.73" stroke="#050505" stroke-width="1.0"/>
<line x1="110.20" y1="265.40" x2="113.40" y2="265.40" stroke="#050505" stroke-width="1.2"/>
<line x1="111.60" y1="272.93" x2="113.40" y2="272.93" stroke="#050505" stroke-width="1.0"/>
<line x1="111.60" y1="280.47" x2="113.40" y2="280.47" stroke="#050505" stroke-width="1.0"/>
<line x1="110.20" y1="288.00" x2="113.40" y2="288.00" stroke="#050505" stroke-width="1.2"/>
<line x1="129.00" y1="287.90" x2="129.00" y2="290.30" stroke="#050505" stroke-width="1.1"/>
<line x1="144.60" y1="287.90" x2="144.60" y2="290.30" stroke="#050505" stroke-width="1.1"/>
<line x1="160.90" y1="287.90" x2="160.90" y2="290.30" stroke="#050505" stroke-width="1.1"/>
<line x1="177.20" y1="287.90" x2="177.20" y2="290.30" stroke="#050505" stroke-width="1.1"/>
<line x1="193.60" y1="287.90" x2="193.60" y2="290.30" stroke="#050505" stroke-width="1.1"/>
<line x1="132.12" y1="287.90" x2="132.12" y2="289.30" stroke="#050505" stroke-width="0.9"/>
<line x1="135.24" y1="287.90" x2="135.24" y2="289.30" stroke="#050505" stroke-width="0.9"/>
<line x1="138.36" y1="287.90" x2="138.36" y2="289.30" stroke="#050505" stroke-width="0.9"/>
<line x1="141.48" y1="287.90" x2="141.48" y2="289.30" stroke="#050505" stroke-width="0.9"/>
<line x1="147.86" y1="287.90" x2="147.86" y2="289.30" stroke="#050505" stroke-width="0.9"/>
<line x1="151.12" y1="287.90" x2="151.12" y2="289.30" stroke="#050505" stroke-width="0.9"/>
<line x1="154.38" y1="287.90" x2="154.38" y2="289.30" stroke="#050505" stroke-width="0.9"/>
<line x1="157.64" y1="287.90" x2="157.64" y2="289.30" stroke="#050505" stroke-width="0.9"/>
<line x1="164.16" y1="287.90" x2="164.16" y2="289.30" stroke="#050505" stroke-width="0.9"/>
<line x1="167.42" y1="287.90" x2="167.42" y2="289.30" stroke="#050505" stroke-width="0.9"/>
<line x1="170.68" y1="287.90" x2="170.68" y2="289.30" stroke="#050505" stroke-width="0.9"/>
<line x1="173.94" y1="287.90" x2="173.94" y2="289.30" stroke="#050505" stroke-width="0.9"/>
<line x1="180.48" y1="287.90" x2="180.48" y2="289.30" stroke="#050505" stroke-width="0.9"/>
<line x1="183.76" y1="287.90" x2="183.76" y2="289.30" stroke="#050505" stroke-width="0.9"/>
<line x1="187.04" y1="287.90" x2="187.04" y2="289.30" stroke="#050505" stroke-width="0.9"/>
<line x1="190.32" y1="287.90" x2="190.32" y2="289.30" stroke="#050505" stroke-width="0.9"/>
<text x="156.45" y="203.70" font-size="8.3" text-anchor="middle" fill="#3a3a3a" stroke="#3a3a3a" stroke-width="0.24" font-weight="normal" textLength="35.20" lengthAdjust="spacingAndGlyphs">LSK Gated</text>
<line x1="121.20" y1="247.50" x2="172.50" y2="247.50" stroke="#050505" stroke-width="1.35"/>
<line x1="121.20" y1="245.80" x2="121.20" y2="249.20" stroke="#050505" stroke-width="1.2"/>
<line x1="130.00" y1="245.80" x2="130.00" y2="249.20" stroke="#050505" stroke-width="1.2"/>
<line x1="172.50" y1="245.80" x2="172.50" y2="249.20" stroke="#050505" stroke-width="1.2"/>
<text x="151.00" y="243.70" font-size="7.6" text-anchor="middle" fill="#3a3a3a" stroke="#3a3a3a" stroke-width="0.24" font-weight="normal" textLength="21.70" lengthAdjust="spacingAndGlyphs">27.7%</text>
<text x="156.45" y="303.00" font-size="10.5" text-anchor="middle" fill="#3a3a3a" stroke="#3a3a3a" stroke-width="0.24" font-weight="normal" textLength="15.20" lengthAdjust="spacingAndGlyphs">DAPI</text>
<line x1="236.70" y1="191.50" x2="236.70" y2="288.50" stroke="#050505" stroke-width="1.3"/>
<line x1="233.60" y1="288.50" x2="236.70" y2="288.50" stroke="#050505" stroke-width="1.3"/>
<text x="230.80" y="291.66" font-size="9.2" text-anchor="end" fill="#3a3a3a" stroke="#3a3a3a" stroke-width="0.24" font-weight="normal" textLength="3.70" lengthAdjust="spacingAndGlyphs">0</text>
<line x1="233.60" y1="269.64" x2="236.70" y2="269.64" stroke="#050505" stroke-width="1.3"/>
<text x="230.80" y="272.80" font-size="9.2" text-anchor="end" fill="#3a3a3a" stroke="#3a3a3a" stroke-width="0.24" font-weight="normal" textLength="7.90" lengthAdjust="spacingAndGlyphs">20</text>
<line x1="233.60" y1="250.78" x2="236.70" y2="250.78" stroke="#050505" stroke-width="1.3"/>
<text x="230.80" y="253.94" font-size="9.2" text-anchor="end" fill="#3a3a3a" stroke="#3a3a3a" stroke-width="0.24" font-weight="normal" textLength="7.90" lengthAdjust="spacingAndGlyphs">40</text>
<line x1="233.60" y1="231.92" x2="236.70" y2="231.92" stroke="#050505" stroke-width="1.3"/>
<text x="230.80" y="235.08" font-size="9.2" text-anchor="end" fill="#3a3a3a" stroke="#3a3a3a" stroke-width="0.24" font-weight="normal" textLength="7.90" lengthAdjust="spacingAndGlyphs">60</text>
<line x1="233.60" y1="213.06" x2="236.70" y2="213.06" stroke="#050505" stroke-width="1.3"/>
<text x="230.80" y="216.22" font-size="9.2" text-anchor="end" fill="#3a3a3a" stroke="#3a3a3a" stroke-width="0.24" font-weight="normal" textLength="7.90" lengthAdjust="spacingAndGlyphs">80</text>
<line x1="233.60" y1="194.20" x2="236.70" y2="194.20" stroke="#050505" stroke-width="1.3"/>
<text x="230.80" y="197.36" font-size="9.2" text-anchor="end" fill="#3a3a3a" stroke="#3a3a3a" stroke-width="0.24" font-weight="normal" textLength="11.20" lengthAdjust="spacingAndGlyphs">100</text>
<line x1="236.70" y1="288.50" x2="330.80" y2="288.50" stroke="#050505" stroke-width="1.3"/>
<line x1="236.70" y1="288.50" x2="236.70" y2="291.10" stroke="#050505" stroke-width="1.3"/>
<line x1="282.20" y1="288.50" x2="282.20" y2="291.10" stroke="#050505" stroke-width="1.3"/>
<line x1="327.80" y1="288.50" x2="327.80" y2="291.10" stroke="#050505" stroke-width="1.3"/>
<text x="0" y="0" font-size="10.3" text-anchor="middle" fill="#3a3a3a" stroke="#3a3a3a" stroke-width="0.24" textLength="43.80" lengthAdjust="spacingAndGlyphs" transform="translate(213.80 241.60) rotate(-90)">% of LSK cell</text>
<rect x="246.20" y="208.80" width="13.00" height="79.70" fill="#a6032a"/>
<line x1="252.70" y1="205.40" x2="252.70" y2="213.70" stroke="#050505" stroke-width="1.0"/>
<line x1="249.70" y1="205.40" x2="255.70" y2="205.40" stroke="#050505" stroke-width="1.1"/>
<line x1="249.70" y1="213.70" x2="255.70" y2="213.70" stroke="#050505" stroke-width="1.1"/>
<rect x="259.20" y="220.70" width="13.30" height="67.80" fill="#2f4b83"/>
<line x1="265.85" y1="216.20" x2="265.85" y2="225.00" stroke="#050505" stroke-width="1.0"/>
<line x1="262.85" y1="216.20" x2="268.85" y2="216.20" stroke="#050505" stroke-width="1.1"/>
<line x1="262.85" y1="225.00" x2="268.85" y2="225.00" stroke="#050505" stroke-width="1.1"/>
<rect x="291.30" y="277.60" width="13.30" height="10.90" fill="#a6032a"/>
<line x1="297.95" y1="275.00" x2="297.95" y2="280.70" stroke="#050505" stroke-width="1.0"/>
<line x1="294.95" y1="275.00" x2="300.95" y2="275.00" stroke="#050505" stroke-width="1.1"/>
<line x1="294.95" y1="280.70" x2="300.95" y2="280.70" stroke="#050505" stroke-width="1.1"/>
<rect x="304.60" y="264.00" width="13.10" height="24.50" fill="#2f4b83"/>
<line x1="311.15" y1="259.50" x2="311.15" y2="268.00" stroke="#050505" stroke-width="1.0"/>
<line x1="308.15" y1="259.50" x2="314.15" y2="259.50" stroke="#050505" stroke-width="1.1"/>
<line x1="308.15" y1="268.00" x2="314.15" y2="268.00" stroke="#050505" stroke-width="1.1"/>
<text x="265.80" y="215.95" font-size="7.6" text-anchor="middle" fill="#222" stroke="#222" stroke-width="0.24" font-weight="normal">*</text>
<text x="311.10" y="260.15" font-size="7.6" text-anchor="middle" fill="#222" stroke="#222" stroke-width="0.24" font-weight="normal">**</text>
<text x="258.95" y="302.00" font-size="8.3" text-anchor="middle" fill="#3a3a3a" stroke="#3a3a3a" stroke-width="0.24" font-weight="normal" textLength="22.80" lengthAdjust="spacingAndGlyphs">G0/G1</text>
<text x="304.60" y="302.00" font-size="8.3" text-anchor="middle" fill="#3a3a3a" stroke="#3a3a3a" stroke-width="0.24" font-weight="normal" textLength="17.50" lengthAdjust="spacingAndGlyphs">S/G2</text>
<text x="346.30" y="169.60" font-size="11.6" text-anchor="start" fill="#0e0e0e" font-weight="bold">D</text>
<text x="441.55" y="176.60" font-size="10.3" text-anchor="middle" fill="#333333" stroke="#333333" stroke-width="0.1" font-weight="normal" textLength="141.20" lengthAdjust="spacingAndGlyphs">BrdU 16h in vivo After Transplant</text>
<line x1="380.50" y1="191.00" x2="380.50" y2="288.20" stroke="#050505" stroke-width="1.3"/>
<line x1="377.40" y1="288.20" x2="380.50" y2="288.20" stroke="#050505" stroke-width="1.3"/>
<text x="374.40" y="291.36" font-size="9.2" text-anchor="end" fill="#3a3a3a" stroke="#3a3a3a" stroke-width="0.24" font-weight="normal" textLength="3.70" lengthAdjust="spacingAndGlyphs">0</text>
<line x1="377.40" y1="272.52" x2="380.50" y2="272.52" stroke="#050505" stroke-width="1.3"/>
<text x="374.40" y="275.68" font-size="9.2" text-anchor="end" fill="#3a3a3a" stroke="#3a3a3a" stroke-width="0.24" font-weight="normal" textLength="3.70" lengthAdjust="spacingAndGlyphs">5</text>
<line x1="377.40" y1="256.83" x2="380.50" y2="256.83" stroke="#050505" stroke-width="1.3"/>
<text x="374.40" y="260.00" font-size="9.2" text-anchor="end" fill="#3a3a3a" stroke="#3a3a3a" stroke-width="0.24" font-weight="normal" textLength="7.00" lengthAdjust="spacingAndGlyphs">10</text>
<line x1="377.40" y1="241.15" x2="380.50" y2="241.15" stroke="#050505" stroke-width="1.3"/>
<text x="374.40" y="244.31" font-size="9.2" text-anchor="end" fill="#3a3a3a" stroke="#3a3a3a" stroke-width="0.24" font-weight="normal" textLength="7.00" lengthAdjust="spacingAndGlyphs">15</text>
<line x1="377.40" y1="225.47" x2="380.50" y2="225.47" stroke="#050505" stroke-width="1.3"/>
<text x="374.40" y="228.63" font-size="9.2" text-anchor="end" fill="#3a3a3a" stroke="#3a3a3a" stroke-width="0.24" font-weight="normal" textLength="7.90" lengthAdjust="spacingAndGlyphs">20</text>
<line x1="377.40" y1="209.78" x2="380.50" y2="209.78" stroke="#050505" stroke-width="1.3"/>
<text x="374.40" y="212.95" font-size="9.2" text-anchor="end" fill="#3a3a3a" stroke="#3a3a3a" stroke-width="0.24" font-weight="normal" textLength="7.90" lengthAdjust="spacingAndGlyphs">25</text>
<line x1="377.40" y1="194.10" x2="380.50" y2="194.10" stroke="#050505" stroke-width="1.3"/>
<text x="374.40" y="197.26" font-size="9.2" text-anchor="end" fill="#3a3a3a" stroke="#3a3a3a" stroke-width="0.24" font-weight="normal" textLength="7.90" lengthAdjust="spacingAndGlyphs">30</text>
<line x1="380.50" y1="288.20" x2="504.00" y2="288.20" stroke="#050505" stroke-width="1.3"/>
<line x1="380.50" y1="288.20" x2="380.50" y2="290.80" stroke="#050505" stroke-width="1.3"/>
<line x1="440.60" y1="288.20" x2="440.60" y2="290.80" stroke="#050505" stroke-width="1.3"/>
<line x1="501.00" y1="288.20" x2="501.00" y2="290.80" stroke="#050505" stroke-width="1.3"/>
<text x="0" y="0" font-size="10.3" text-anchor="middle" fill="#3a3a3a" stroke="#3a3a3a" stroke-width="0.24" textLength="31.60" lengthAdjust="spacingAndGlyphs" transform="translate(361.20 240.30) rotate(-90)">% BrdU +</text>
<rect x="393.00" y="264.30" width="17.00" height="23.90" fill="#a6032a"/>
<line x1="401.50" y1="250.10" x2="401.50" y2="279.40" stroke="#050505" stroke-width="1.0"/>
<line x1="398.30" y1="250.10" x2="404.70" y2="250.10" stroke="#050505" stroke-width="1.1"/>
<line x1="398.30" y1="279.40" x2="404.70" y2="279.40" stroke="#050505" stroke-width="1.1"/>
<rect x="410.00" y="259.60" width="16.80" height="28.60" fill="#2f4b83"/>
<line x1="418.40" y1="251.50" x2="418.40" y2="267.20" stroke="#050505" stroke-width="1.0"/>
<line x1="415.20" y1="251.50" x2="421.60" y2="251.50" stroke="#050505" stroke-width="1.1"/>
<line x1="415.20" y1="267.20" x2="421.60" y2="267.20" stroke="#050505" stroke-width="1.1"/>
<rect x="453.40" y="252.60" width="16.60" height="35.60" fill="#a6032a"/>
<line x1="461.70" y1="242.30" x2="461.70" y2="263.10" stroke="#050505" stroke-width="1.0"/>
<line x1="458.50" y1="242.30" x2="464.90" y2="242.30" stroke="#050505" stroke-width="1.1"/>
<line x1="458.50" y1="263.10" x2="464.90" y2="263.10" stroke="#050505" stroke-width="1.1"/>
<rect x="470.00" y="215.00" width="17.00" height="73.20" fill="#2f4b83"/>
<line x1="478.50" y1="211.20" x2="478.50" y2="219.70" stroke="#050505" stroke-width="1.0"/>
<line x1="475.30" y1="211.20" x2="481.70" y2="211.20" stroke="#050505" stroke-width="1.1"/>
<line x1="475.30" y1="219.70" x2="481.70" y2="219.70" stroke="#050505" stroke-width="1.1"/>
<text x="478.60" y="210.65" font-size="7.6" text-anchor="middle" fill="#222" stroke="#222" stroke-width="0.24" font-weight="normal">*</text>
<text x="410.70" y="302.00" font-size="8.3" text-anchor="middle" fill="#3a3a3a" stroke="#3a3a3a" stroke-width="0.24" font-weight="normal" textLength="45.90" lengthAdjust="spacingAndGlyphs">CD45.1 (wild</text>
<text x="410.00" y="310.60" font-size="8.3" text-anchor="middle" fill="#3a3a3a" stroke="#3a3a3a" stroke-width="0.24" font-weight="normal" textLength="42.70" lengthAdjust="spacingAndGlyphs">type carrier)</text>
<text x="470.40" y="301.80" font-size="8.3" text-anchor="middle" fill="#3a3a3a" stroke="#3a3a3a" stroke-width="0.24" font-weight="normal" textLength="26.30" lengthAdjust="spacingAndGlyphs">CD45.2</text>
<text x="7.30" y="337.50" font-size="11.6" text-anchor="start" fill="#0e0e0e" font-weight="bold">E</text>
<text x="222.90" y="345.10" font-size="10.8" text-anchor="middle" fill="#333333" stroke="#333333" stroke-width="0.1" font-weight="normal" textLength="27.70" lengthAdjust="spacingAndGlyphs">γH2Ax</text>
<path d="M33.60,478.50 C33.77,476.75 34.30,471.92 34.60,468.00 C34.90,464.08 35.17,459.67 35.40,455.00 C35.63,450.33 35.80,445.83 36.00,440.00 C36.20,434.17 36.40,426.33 36.60,420.00 C36.80,413.67 37.02,406.45 37.20,402.00 C37.38,397.55 37.53,393.30 37.70,393.30 C37.87,393.30 38.00,397.55 38.20,402.00 C38.40,406.45 38.67,414.50 38.90,420.00 C39.13,425.50 39.37,430.00 39.60,435.00 C39.83,440.00 40.08,445.83 40.30,450.00 C40.52,454.17 40.68,456.67 40.90,460.00 C41.12,463.33 41.28,467.53 41.60,470.00 C41.92,472.47 42.40,473.88 42.80,474.80 C43.20,475.72 43.63,475.22 44.00,475.50 C44.37,475.78 44.50,476.48 45.00,476.50 C45.50,476.52 46.25,475.58 47.00,475.60 C47.75,475.62 48.67,476.53 49.50,476.60 C50.33,476.67 51.17,475.97 52.00,476.00 C52.83,476.03 53.67,476.77 54.50,476.80 C55.33,476.83 56.12,475.92 57.00,476.20 C57.88,476.48 59.33,478.12 59.80,478.50 Z" fill="#a6032a"/>
<path d="M19.60,470.50 C19.72,471.33 20.03,474.25 20.30,475.50 C20.57,476.75 21.05,477.58 21.20,478.00" fill="none" stroke="#050505" stroke-width="1.0" stroke-linejoin="round" stroke-linecap="round"/>
<rect x="19.20" y="377.30" width="91.20" height="101.20" fill="none" stroke="#050505" stroke-width="1.55"/>
<line x1="16.00" y1="380.70" x2="19.20" y2="380.70" stroke="#050505" stroke-width="1.2"/>
<line x1="17.40" y1="388.93" x2="19.20" y2="388.93" stroke="#050505" stroke-width="1.0"/>
<line x1="17.40" y1="397.17" x2="19.20" y2="397.17" stroke="#050505" stroke-width="1.0"/>
<line x1="16.00" y1="405.40" x2="19.20" y2="405.40" stroke="#050505" stroke-width="1.2"/>
<line x1="17.40" y1="413.50" x2="19.20" y2="413.50" stroke="#050505" stroke-width="1.0"/>
<line x1="17.40" y1="421.60" x2="19.20" y2="421.60" stroke="#050505" stroke-width="1.0"/>
<line x1="16.00" y1="429.70" x2="19.20" y2="429.70" stroke="#050505" stroke-width="1.2"/>
<line x1="17.40" y1="437.90" x2="19.20" y2="437.90" stroke="#050505" stroke-width="1.0"/>
<line x1="17.40" y1="446.10" x2="19.20" y2="446.10" stroke="#050505" stroke-width="1.0"/>
<line x1="16.00" y1="454.30" x2="19.20" y2="454.30" stroke="#050505" stroke-width="1.2"/>
<line x1="17.40" y1="462.37" x2="19.20" y2="462.37" stroke="#050505" stroke-width="1.0"/>
<line x1="17.40" y1="470.43" x2="19.20" y2="470.43" stroke="#050505" stroke-width="1.0"/>
<line x1="16.00" y1="478.50" x2="19.20" y2="478.50" stroke="#050505" stroke-width="1.2"/>
<line x1="35.40" y1="478.50" x2="35.40" y2="480.90" stroke="#050505" stroke-width="1.1"/>
<line x1="52.70" y1="478.50" x2="52.70" y2="480.90" stroke="#050505" stroke-width="1.1"/>
<line x1="70.50" y1="478.50" x2="70.50" y2="480.90" stroke="#050505" stroke-width="1.1"/>
<line x1="87.80" y1="478.50" x2="87.80" y2="480.90" stroke="#050505" stroke-width="1.1"/>
<line x1="105.30" y1="478.50" x2="105.30" y2="480.90" stroke="#050505" stroke-width="1.1"/>
<line x1="38.86" y1="478.50" x2="38.86" y2="479.90" stroke="#050505" stroke-width="0.9"/>
<line x1="42.32" y1="478.50" x2="42.32" y2="479.90" stroke="#050505" stroke-width="0.9"/>
<line x1="45.78" y1="478.50" x2="45.78" y2="479.90" stroke="#050505" stroke-width="0.9"/>
<line x1="49.24" y1="478.50" x2="49.24" y2="479.90" stroke="#050505" stroke-width="0.9"/>
<line x1="56.26" y1="478.50" x2="56.26" y2="479.90" stroke="#050505" stroke-width="0.9"/>
<line x1="59.82" y1="478.50" x2="59.82" y2="479.90" stroke="#050505" stroke-width="0.9"/>
<line x1="63.38" y1="478.50" x2="63.38" y2="479.90" stroke="#050505" stroke-width="0.9"/>
<line x1="66.94" y1="478.50" x2="66.94" y2="479.90" stroke="#050505" stroke-width="0.9"/>
<line x1="73.96" y1="478.50" x2="73.96" y2="479.90" stroke="#050505" stroke-width="0.9"/>
<line x1="77.42" y1="478.50" x2="77.42" y2="479.90" stroke="#050505" stroke-width="0.9"/>
<line x1="80.88" y1="478.50" x2="80.88" y2="479.90" stroke="#050505" stroke-width="0.9"/>
<line x1="84.34" y1="478.50" x2="84.34" y2="479.90" stroke="#050505" stroke-width="0.9"/>
<line x1="91.30" y1="478.50" x2="91.30" y2="479.90" stroke="#050505" stroke-width="0.9"/>
<line x1="94.80" y1="478.50" x2="94.80" y2="479.90" stroke="#050505" stroke-width="0.9"/>
<line x1="98.30" y1="478.50" x2="98.30" y2="479.90" stroke="#050505" stroke-width="0.9"/>
<line x1="101.80" y1="478.50" x2="101.80" y2="479.90" stroke="#050505" stroke-width="0.9"/>
<text x="40.35" y="387.00" font-size="8.3" text-anchor="middle" fill="#3a3a3a" stroke="#3a3a3a" stroke-width="0.24" font-weight="normal" textLength="34.80" lengthAdjust="spacingAndGlyphs">LSK Gated</text>
<line x1="30.20" y1="432.60" x2="82.20" y2="432.60" stroke="#050505" stroke-width="1.35"/>
<line x1="30.20" y1="430.90" x2="30.20" y2="434.30" stroke="#050505" stroke-width="1.2"/>
<line x1="41.80" y1="430.90" x2="41.80" y2="434.30" stroke="#050505" stroke-width="1.2"/>
<line x1="82.20" y1="430.90" x2="82.20" y2="434.30" stroke="#050505" stroke-width="1.2"/>
<text x="65.80" y="492.60" font-size="10.5" text-anchor="middle" fill="#3a3a3a" stroke="#3a3a3a" stroke-width="0.24" font-weight="normal" textLength="16.50" lengthAdjust="spacingAndGlyphs">DAPI</text>
<polyline points="66.1,432.6 66.1,356.4 282.2,356.4 282.2,367.5" fill="none" stroke="#050505" stroke-width="1.35"/>
<polygon points="279.6,364.3 284.8,364.3 282.2,371.2" fill="#050505"/>
<polyline points="35.5,434.0 35.5,447.6 112.5,447.6" fill="none" stroke="#050505" stroke-width="1.35"/>
<polygon points="111.4,444.9 111.4,450.3 117.5,447.6" fill="#050505"/>
<path d="M152.90,478.40 C153.18,477.17 153.97,474.73 154.60,471.00 C155.23,467.27 156.10,461.17 156.70,456.00 C157.30,450.83 157.75,445.07 158.20,440.00 C158.65,434.93 159.02,430.10 159.40,425.60 C159.78,421.10 160.18,416.05 160.50,413.00 C160.82,409.95 161.03,409.30 161.30,407.30 C161.57,405.30 161.85,402.52 162.10,401.00 C162.35,399.48 162.57,398.20 162.80,398.20 C163.03,398.20 163.27,399.37 163.50,401.00 C163.73,402.63 163.95,406.43 164.20,408.00 C164.45,409.57 164.70,409.87 165.00,410.40 C165.30,410.93 165.67,410.93 166.00,411.20 C166.33,411.47 166.73,410.53 167.00,412.00 C167.27,413.47 167.42,416.50 167.60,420.00 C167.78,423.50 167.90,428.83 168.10,433.00 C168.30,437.17 168.55,441.17 168.80,445.00 C169.05,448.83 169.23,452.67 169.60,456.00 C169.97,459.33 170.48,462.50 171.00,465.00 C171.52,467.50 172.10,469.25 172.70,471.00 C173.30,472.75 173.97,474.27 174.60,475.50 C175.23,476.73 176.18,477.92 176.50,478.40 Z" fill="#a6032a"/>
<path d="M126.80,478.00 C130.67,478.00 144.72,478.07 150.00,478.00 C155.28,477.93 156.62,478.27 158.50,477.60 C160.38,476.93 160.55,475.60 161.30,474.00 C162.05,472.40 162.50,469.75 163.00,468.00 C163.50,466.25 163.83,466.50 164.30,463.50 C164.77,460.50 165.30,455.08 165.80,450.00 C166.30,444.92 166.90,437.50 167.30,433.00 C167.70,428.50 167.93,426.00 168.20,423.00 C168.47,420.00 168.65,417.07 168.90,415.00 C169.15,412.93 169.45,411.50 169.70,410.60 C169.95,409.70 170.18,409.63 170.40,409.60 C170.62,409.57 170.80,410.00 171.00,410.40 C171.20,410.80 171.37,412.23 171.60,412.00 C171.83,411.77 172.10,409.78 172.40,409.00 C172.70,408.22 173.08,407.22 173.40,407.30 C173.72,407.38 174.00,407.72 174.30,409.50 C174.60,411.28 174.92,414.58 175.20,418.00 C175.48,421.42 175.78,426.20 176.00,430.00 C176.22,433.80 176.27,437.47 176.50,440.80 C176.73,444.13 177.10,446.97 177.40,450.00 C177.70,453.03 177.98,456.42 178.30,459.00 C178.62,461.58 178.97,463.50 179.30,465.50 C179.63,467.50 179.85,469.28 180.30,471.00 C180.75,472.72 181.38,474.67 182.00,475.80 C182.62,476.93 183.33,477.43 184.00,477.80 C184.67,478.17 180.50,477.97 186.00,478.00 C191.50,478.03 211.83,478.00 217.00,478.00" fill="none" stroke="#2b3f6e" stroke-width="1.6" stroke-linejoin="round" stroke-linecap="round"/>
<rect x="126.30" y="377.10" width="91.00" height="101.30" fill="none" stroke="#050505" stroke-width="1.55"/>
<line x1="123.10" y1="377.10" x2="126.30" y2="377.10" stroke="#050505" stroke-width="1.2"/>
<line x1="124.50" y1="381.15" x2="126.30" y2="381.15" stroke="#050505" stroke-width="1.0"/>
<line x1="124.50" y1="385.20" x2="126.30" y2="385.20" stroke="#050505" stroke-width="1.0"/>
<line x1="124.50" y1="389.26" x2="126.30" y2="389.26" stroke="#050505" stroke-width="1.0"/>
<line x1="124.50" y1="393.31" x2="126.30" y2="393.31" stroke="#050505" stroke-width="1.0"/>
<line x1="123.10" y1="397.36" x2="126.30" y2="397.36" stroke="#050505" stroke-width="1.2"/>
<line x1="124.50" y1="401.41" x2="126.30" y2="401.41" stroke="#050505" stroke-width="1.0"/>
<line x1="124.50" y1="405.46" x2="126.30" y2="405.46" stroke="#050505" stroke-width="1.0"/>
<line x1="124.50" y1="409.52" x2="126.30" y2="409.52" stroke="#050505" stroke-width="1.0"/>
<line x1="124.50" y1="413.57" x2="126.30" y2="413.57" stroke="#050505" stroke-width="1.0"/>
<line x1="123.10" y1="417.62" x2="126.30" y2="417.62" stroke="#050505" stroke-width="1.2"/>
<line x1="124.50" y1="421.67" x2="126.30" y2="421.67" stroke="#050505" stroke-width="1.0"/>
<line x1="124.50" y1="425.72" x2="126.30" y2="425.72" stroke="#050505" stroke-width="1.0"/>
<line x1="124.50" y1="429.78" x2="126.30" y2="429.78" stroke="#050505" stroke-width="1.0"/>
<line x1="124.50" y1="433.83" x2="126.30" y2="433.83" stroke="#050505" stroke-width="1.0"/>
<line x1="123.10" y1="437.88" x2="126.30" y2="437.88" stroke="#050505" stroke-width="1.2"/>
<line x1="124.50" y1="441.93" x2="126.30" y2="441.93" stroke="#050505" stroke-width="1.0"/>
<line x1="124.50" y1="445.98" x2="126.30" y2="445.98" stroke="#050505" stroke-width="1.0"/>
<line x1="124.50" y1="450.04" x2="126.30" y2="450.04" stroke="#050505" stroke-width="1.0"/>
<line x1="124.50" y1="454.09" x2="126.30" y2="454.09" stroke="#050505" stroke-width="1.0"/>
<line x1="123.10" y1="458.14" x2="126.30" y2="458.14" stroke="#050505" stroke-width="1.2"/>
<line x1="124.50" y1="462.19" x2="126.30" y2="462.19" stroke="#050505" stroke-width="1.0"/>
<line x1="124.50" y1="466.24" x2="126.30" y2="466.24" stroke="#050505" stroke-width="1.0"/>
<line x1="124.50" y1="470.30" x2="126.30" y2="470.30" stroke="#050505" stroke-width="1.0"/>
<line x1="124.50" y1="474.35" x2="126.30" y2="474.35" stroke="#050505" stroke-width="1.0"/>
<line x1="123.10" y1="478.40" x2="126.30" y2="478.40" stroke="#050505" stroke-width="1.2"/>
<line x1="142.60" y1="478.40" x2="142.60" y2="480.80" stroke="#050505" stroke-width="1.1"/>
<line x1="159.90" y1="478.40" x2="159.90" y2="480.80" stroke="#050505" stroke-width="1.1"/>
<line x1="177.70" y1="478.40" x2="177.70" y2="480.80" stroke="#050505" stroke-width="1.1"/>
<line x1="195.00" y1="478.40" x2="195.00" y2="480.80" stroke="#050505" stroke-width="1.1"/>
<line x1="212.50" y1="478.40" x2="212.50" y2="480.80" stroke="#050505" stroke-width="1.1"/>
<line x1="147.81" y1="478.40" x2="147.81" y2="479.80" stroke="#050505" stroke-width="0.9"/>
<line x1="150.85" y1="478.40" x2="150.85" y2="479.80" stroke="#050505" stroke-width="0.9"/>
<line x1="153.02" y1="478.40" x2="153.02" y2="479.80" stroke="#050505" stroke-width="0.9"/>
<line x1="154.69" y1="478.40" x2="154.69" y2="479.80" stroke="#050505" stroke-width="0.9"/>
<line x1="156.06" y1="478.40" x2="156.06" y2="479.80" stroke="#050505" stroke-width="0.9"/>
<line x1="157.22" y1="478.40" x2="157.22" y2="479.80" stroke="#050505" stroke-width="0.9"/>
<line x1="158.22" y1="478.40" x2="158.22" y2="479.80" stroke="#050505" stroke-width="0.9"/>
<line x1="159.11" y1="478.40" x2="159.11" y2="479.80" stroke="#050505" stroke-width="0.9"/>
<line x1="165.26" y1="478.40" x2="165.26" y2="479.80" stroke="#050505" stroke-width="0.9"/>
<line x1="168.39" y1="478.40" x2="168.39" y2="479.80" stroke="#050505" stroke-width="0.9"/>
<line x1="170.62" y1="478.40" x2="170.62" y2="479.80" stroke="#050505" stroke-width="0.9"/>
<line x1="172.34" y1="478.40" x2="172.34" y2="479.80" stroke="#050505" stroke-width="0.9"/>
<line x1="173.75" y1="478.40" x2="173.75" y2="479.80" stroke="#050505" stroke-width="0.9"/>
<line x1="174.94" y1="478.40" x2="174.94" y2="479.80" stroke="#050505" stroke-width="0.9"/>
<line x1="175.98" y1="478.40" x2="175.98" y2="479.80" stroke="#050505" stroke-width="0.9"/>
<line x1="176.89" y1="478.40" x2="176.89" y2="479.80" stroke="#050505" stroke-width="0.9"/>
<line x1="182.91" y1="478.40" x2="182.91" y2="479.80" stroke="#050505" stroke-width="0.9"/>
<line x1="185.95" y1="478.40" x2="185.95" y2="479.80" stroke="#050505" stroke-width="0.9"/>
<line x1="188.12" y1="478.40" x2="188.12" y2="479.80" stroke="#050505" stroke-width="0.9"/>
<line x1="189.79" y1="478.40" x2="189.79" y2="479.80" stroke="#050505" stroke-width="0.9"/>
<line x1="191.16" y1="478.40" x2="191.16" y2="479.80" stroke="#050505" stroke-width="0.9"/>
<line x1="192.32" y1="478.40" x2="192.32" y2="479.80" stroke="#050505" stroke-width="0.9"/>
<line x1="193.32" y1="478.40" x2="193.32" y2="479.80" stroke="#050505" stroke-width="0.9"/>
<line x1="194.21" y1="478.40" x2="194.21" y2="479.80" stroke="#050505" stroke-width="0.9"/>
<line x1="200.27" y1="478.40" x2="200.27" y2="479.80" stroke="#050505" stroke-width="0.9"/>
<line x1="203.35" y1="478.40" x2="203.35" y2="479.80" stroke="#050505" stroke-width="0.9"/>
<line x1="205.54" y1="478.40" x2="205.54" y2="479.80" stroke="#050505" stroke-width="0.9"/>
<line x1="207.23" y1="478.40" x2="207.23" y2="479.80" stroke="#050505" stroke-width="0.9"/>
<line x1="208.62" y1="478.40" x2="208.62" y2="479.80" stroke="#050505" stroke-width="0.9"/>
<line x1="209.79" y1="478.40" x2="209.79" y2="479.80" stroke="#050505" stroke-width="0.9"/>
<line x1="210.80" y1="478.40" x2="210.80" y2="479.80" stroke="#050505" stroke-width="0.9"/>
<line x1="211.70" y1="478.40" x2="211.70" y2="479.80" stroke="#050505" stroke-width="0.9"/>
<text x="151.20" y="387.00" font-size="8.3" text-anchor="middle" fill="#3a3a3a" stroke="#3a3a3a" stroke-width="0.24" font-weight="normal" textLength="41.70" lengthAdjust="spacingAndGlyphs">LSK – G0/G1</text>
<line x1="174.20" y1="467.70" x2="216.90" y2="467.70" stroke="#050505" stroke-width="1.35"/>
<line x1="174.20" y1="466.00" x2="174.20" y2="469.40" stroke="#050505" stroke-width="1.2"/>
<line x1="216.90" y1="466.00" x2="216.90" y2="469.40" stroke="#050505" stroke-width="1.2"/>
<text x="194.35" y="463.60" font-size="7.6" text-anchor="middle" fill="#3a3a3a" stroke="#3a3a3a" stroke-width="0.24" font-weight="normal" textLength="20.40" lengthAdjust="spacingAndGlyphs">38.1%</text>
<text x="171.95" y="492.40" font-size="10.5" text-anchor="middle" fill="#3a3a3a" stroke="#3a3a3a" stroke-width="0.24" font-weight="normal" textLength="21.60" lengthAdjust="spacingAndGlyphs">γH2Ax</text>
<text x="298.70" y="463.20" font-size="7.6" text-anchor="middle" fill="#3a3a3a" stroke="#3a3a3a" stroke-width="0.24" font-weight="normal" textLength="19.10" lengthAdjust="spacingAndGlyphs">95.4%</text>
<path d="M265.80,478.40 C266.08,478.00 266.85,477.00 267.50,476.00 C268.15,475.00 269.12,474.23 269.70,472.40 C270.28,470.57 270.65,467.57 271.00,465.00 C271.35,462.43 271.53,459.67 271.80,457.00 C272.07,454.33 272.37,451.33 272.60,449.00 C272.83,446.67 272.97,445.17 273.20,443.00 C273.43,440.83 273.77,437.85 274.00,436.00 C274.23,434.15 274.38,433.32 274.60,431.90 C274.82,430.48 275.08,428.48 275.30,427.50 C275.52,426.52 275.70,425.95 275.90,426.00 C276.10,426.05 276.30,426.82 276.50,427.80 C276.70,428.78 276.92,430.20 277.10,431.90 C277.28,433.60 277.45,435.67 277.60,438.00 C277.75,440.33 277.85,443.23 278.00,445.90 C278.15,448.57 278.33,451.22 278.50,454.00 C278.67,456.78 278.78,460.57 279.00,462.60 C279.22,464.63 279.50,465.27 279.80,466.20 C280.10,467.13 280.43,467.47 280.80,468.20 C281.17,468.93 281.65,469.90 282.00,470.60 C282.35,471.30 282.57,471.70 282.90,472.40 C283.23,473.10 283.65,474.10 284.00,474.80 C284.35,475.50 284.60,476.00 285.00,476.60 C285.40,477.20 286.17,478.10 286.40,478.40 Z" fill="#a6032a"/>
<path d="M227.50,478.00 C234.58,478.00 262.45,478.07 270.00,478.00 C277.55,477.93 272.15,477.85 272.80,477.60 C273.45,477.35 273.53,478.10 273.90,476.50 C274.27,474.90 274.65,470.78 275.00,468.00 C275.35,465.22 275.72,462.97 276.00,459.80 C276.28,456.63 276.48,452.48 276.70,449.00 C276.92,445.52 277.08,442.40 277.30,438.90 C277.52,435.40 277.77,431.50 278.00,428.00 C278.23,424.50 278.47,420.90 278.70,417.90 C278.93,414.90 279.17,412.32 279.40,410.00 C279.63,407.68 279.87,405.40 280.10,404.00 C280.33,402.60 280.57,401.85 280.80,401.60 C281.03,401.35 281.27,402.10 281.50,402.50 C281.73,402.90 281.97,404.00 282.20,404.00 C282.43,404.00 282.67,402.90 282.90,402.50 C283.13,402.10 283.37,401.02 283.60,401.60 C283.83,402.18 284.07,403.28 284.30,406.00 C284.53,408.72 284.77,414.57 285.00,417.90 C285.23,421.23 285.47,423.20 285.70,426.00 C285.93,428.80 286.17,431.70 286.40,434.70 C286.63,437.70 286.87,440.98 287.10,444.00 C287.33,447.02 287.57,450.13 287.80,452.80 C288.03,455.47 288.27,457.90 288.50,460.00 C288.73,462.10 288.97,463.73 289.20,465.40 C289.43,467.07 289.67,468.60 289.90,470.00 C290.13,471.40 290.37,472.80 290.60,473.80 C290.83,474.80 291.07,475.42 291.30,476.00 C291.53,476.58 291.63,476.97 292.00,477.30 C292.37,477.63 288.50,477.88 293.50,478.00 C298.50,478.12 317.25,478.00 322.00,478.00" fill="none" stroke="#2b3f6e" stroke-width="1.6" stroke-linejoin="round" stroke-linecap="round"/>
<rect x="226.90" y="373.00" width="95.30" height="105.40" fill="none" stroke="#050505" stroke-width="1.55"/>
<line x1="223.70" y1="373.00" x2="226.90" y2="373.00" stroke="#050505" stroke-width="1.2"/>
<line x1="225.10" y1="377.22" x2="226.90" y2="377.22" stroke="#050505" stroke-width="1.0"/>
<line x1="225.10" y1="381.43" x2="226.90" y2="381.43" stroke="#050505" stroke-width="1.0"/>
<line x1="225.10" y1="385.65" x2="226.90" y2="385.65" stroke="#050505" stroke-width="1.0"/>
<line x1="225.10" y1="389.86" x2="226.90" y2="389.86" stroke="#050505" stroke-width="1.0"/>
<line x1="223.70" y1="394.08" x2="226.90" y2="394.08" stroke="#050505" stroke-width="1.2"/>
<line x1="225.10" y1="398.30" x2="226.90" y2="398.30" stroke="#050505" stroke-width="1.0"/>
<line x1="225.10" y1="402.51" x2="226.90" y2="402.51" stroke="#050505" stroke-width="1.0"/>
<line x1="225.10" y1="406.73" x2="226.90" y2="406.73" stroke="#050505" stroke-width="1.0"/>
<line x1="225.10" y1="410.94" x2="226.90" y2="410.94" stroke="#050505" stroke-width="1.0"/>
<line x1="223.70" y1="415.16" x2="226.90" y2="415.16" stroke="#050505" stroke-width="1.2"/>
<line x1="225.10" y1="419.38" x2="226.90" y2="419.38" stroke="#050505" stroke-width="1.0"/>
<line x1="225.10" y1="423.59" x2="226.90" y2="423.59" stroke="#050505" stroke-width="1.0"/>
<line x1="225.10" y1="427.81" x2="226.90" y2="427.81" stroke="#050505" stroke-width="1.0"/>
<line x1="225.10" y1="432.02" x2="226.90" y2="432.02" stroke="#050505" stroke-width="1.0"/>
<line x1="223.70" y1="436.24" x2="226.90" y2="436.24" stroke="#050505" stroke-width="1.2"/>
<line x1="225.10" y1="440.46" x2="226.90" y2="440.46" stroke="#050505" stroke-width="1.0"/>
<line x1="225.10" y1="444.67" x2="226.90" y2="444.67" stroke="#050505" stroke-width="1.0"/>
<line x1="225.10" y1="448.89" x2="226.90" y2="448.89" stroke="#050505" stroke-width="1.0"/>
<line x1="225.10" y1="453.10" x2="226.90" y2="453.10" stroke="#050505" stroke-width="1.0"/>
<line x1="223.70" y1="457.32" x2="226.90" y2="457.32" stroke="#050505" stroke-width="1.2"/>
<line x1="225.10" y1="461.54" x2="226.90" y2="461.54" stroke="#050505" stroke-width="1.0"/>
<line x1="225.10" y1="465.75" x2="226.90" y2="465.75" stroke="#050505" stroke-width="1.0"/>
<line x1="225.10" y1="469.97" x2="226.90" y2="469.97" stroke="#050505" stroke-width="1.0"/>
<line x1="225.10" y1="474.18" x2="226.90" y2="474.18" stroke="#050505" stroke-width="1.0"/>
<line x1="223.70" y1="478.40" x2="226.90" y2="478.40" stroke="#050505" stroke-width="1.2"/>
<line x1="243.40" y1="478.40" x2="243.40" y2="480.80" stroke="#050505" stroke-width="1.1"/>
<line x1="260.70" y1="478.40" x2="260.70" y2="480.80" stroke="#050505" stroke-width="1.1"/>
<line x1="278.50" y1="478.40" x2="278.50" y2="480.80" stroke="#050505" stroke-width="1.1"/>
<line x1="295.80" y1="478.40" x2="295.80" y2="480.80" stroke="#050505" stroke-width="1.1"/>
<line x1="313.30" y1="478.40" x2="313.30" y2="480.80" stroke="#050505" stroke-width="1.1"/>
<line x1="248.61" y1="478.40" x2="248.61" y2="479.80" stroke="#050505" stroke-width="0.9"/>
<line x1="251.65" y1="478.40" x2="251.65" y2="479.80" stroke="#050505" stroke-width="0.9"/>
<line x1="253.82" y1="478.40" x2="253.82" y2="479.80" stroke="#050505" stroke-width="0.9"/>
<line x1="255.49" y1="478.40" x2="255.49" y2="479.80" stroke="#050505" stroke-width="0.9"/>
<line x1="256.86" y1="478.40" x2="256.86" y2="479.80" stroke="#050505" stroke-width="0.9"/>
<line x1="258.02" y1="478.40" x2="258.02" y2="479.80" stroke="#050505" stroke-width="0.9"/>
<line x1="259.02" y1="478.40" x2="259.02" y2="479.80" stroke="#050505" stroke-width="0.9"/>
<line x1="259.91" y1="478.40" x2="259.91" y2="479.80" stroke="#050505" stroke-width="0.9"/>
<line x1="266.06" y1="478.40" x2="266.06" y2="479.80" stroke="#050505" stroke-width="0.9"/>
<line x1="269.19" y1="478.40" x2="269.19" y2="479.80" stroke="#050505" stroke-width="0.9"/>
<line x1="271.42" y1="478.40" x2="271.42" y2="479.80" stroke="#050505" stroke-width="0.9"/>
<line x1="273.14" y1="478.40" x2="273.14" y2="479.80" stroke="#050505" stroke-width="0.9"/>
<line x1="274.55" y1="478.40" x2="274.55" y2="479.80" stroke="#050505" stroke-width="0.9"/>
<line x1="275.74" y1="478.40" x2="275.74" y2="479.80" stroke="#050505" stroke-width="0.9"/>
<line x1="276.78" y1="478.40" x2="276.78" y2="479.80" stroke="#050505" stroke-width="0.9"/>
<line x1="277.69" y1="478.40" x2="277.69" y2="479.80" stroke="#050505" stroke-width="0.9"/>
<line x1="283.71" y1="478.40" x2="283.71" y2="479.80" stroke="#050505" stroke-width="0.9"/>
<line x1="286.75" y1="478.40" x2="286.75" y2="479.80" stroke="#050505" stroke-width="0.9"/>
<line x1="288.92" y1="478.40" x2="288.92" y2="479.80" stroke="#050505" stroke-width="0.9"/>
<line x1="290.59" y1="478.40" x2="290.59" y2="479.80" stroke="#050505" stroke-width="0.9"/>
<line x1="291.96" y1="478.40" x2="291.96" y2="479.80" stroke="#050505" stroke-width="0.9"/>
<line x1="293.12" y1="478.40" x2="293.12" y2="479.80" stroke="#050505" stroke-width="0.9"/>
<line x1="294.12" y1="478.40" x2="294.12" y2="479.80" stroke="#050505" stroke-width="0.9"/>
<line x1="295.01" y1="478.40" x2="295.01" y2="479.80" stroke="#050505" stroke-width="0.9"/>
<line x1="301.07" y1="478.40" x2="301.07" y2="479.80" stroke="#050505" stroke-width="0.9"/>
<line x1="304.15" y1="478.40" x2="304.15" y2="479.80" stroke="#050505" stroke-width="0.9"/>
<line x1="306.34" y1="478.40" x2="306.34" y2="479.80" stroke="#050505" stroke-width="0.9"/>
<line x1="308.03" y1="478.40" x2="308.03" y2="479.80" stroke="#050505" stroke-width="0.9"/>
<line x1="309.42" y1="478.40" x2="309.42" y2="479.80" stroke="#050505" stroke-width="0.9"/>
<line x1="310.59" y1="478.40" x2="310.59" y2="479.80" stroke="#050505" stroke-width="0.9"/>
<line x1="311.60" y1="478.40" x2="311.60" y2="479.80" stroke="#050505" stroke-width="0.9"/>
<line x1="312.50" y1="478.40" x2="312.50" y2="479.80" stroke="#050505" stroke-width="0.9"/>
<text x="249.85" y="387.00" font-size="8.3" text-anchor="middle" fill="#3a3a3a" stroke="#3a3a3a" stroke-width="0.24" font-weight="normal" textLength="36.60" lengthAdjust="spacingAndGlyphs">LSK – S/G2</text>
<line x1="275.60" y1="467.10" x2="320.50" y2="467.10" stroke="#050505" stroke-width="1.35"/>
<line x1="275.60" y1="465.40" x2="275.60" y2="468.80" stroke="#050505" stroke-width="1.2"/>
<line x1="320.50" y1="465.40" x2="320.50" y2="468.80" stroke="#050505" stroke-width="1.2"/>
<text x="274.35" y="492.40" font-size="10.5" text-anchor="middle" fill="#3a3a3a" stroke="#3a3a3a" stroke-width="0.24" font-weight="normal" textLength="21.60" lengthAdjust="spacingAndGlyphs">γH2Ax</text>
<line x1="361.00" y1="377.30" x2="361.00" y2="478.50" stroke="#050505" stroke-width="1.3"/>
<line x1="357.90" y1="478.50" x2="361.00" y2="478.50" stroke="#050505" stroke-width="1.3"/>
<text x="355.00" y="481.66" font-size="9.2" text-anchor="end" fill="#3a3a3a" stroke="#3a3a3a" stroke-width="0.24" font-weight="normal" textLength="3.70" lengthAdjust="spacingAndGlyphs">0</text>
<line x1="357.90" y1="458.88" x2="361.00" y2="458.88" stroke="#050505" stroke-width="1.3"/>
<text x="355.00" y="462.04" font-size="9.2" text-anchor="end" fill="#3a3a3a" stroke="#3a3a3a" stroke-width="0.24" font-weight="normal" textLength="7.90" lengthAdjust="spacingAndGlyphs">20</text>
<line x1="357.90" y1="439.26" x2="361.00" y2="439.26" stroke="#050505" stroke-width="1.3"/>
<text x="355.00" y="442.42" font-size="9.2" text-anchor="end" fill="#3a3a3a" stroke="#3a3a3a" stroke-width="0.24" font-weight="normal" textLength="7.90" lengthAdjust="spacingAndGlyphs">40</text>
<line x1="357.90" y1="419.64" x2="361.00" y2="419.64" stroke="#050505" stroke-width="1.3"/>
<text x="355.00" y="422.80" font-size="9.2" text-anchor="end" fill="#3a3a3a" stroke="#3a3a3a" stroke-width="0.24" font-weight="normal" textLength="7.90" lengthAdjust="spacingAndGlyphs">60</text>
<line x1="357.90" y1="400.02" x2="361.00" y2="400.02" stroke="#050505" stroke-width="1.3"/>
<text x="355.00" y="403.18" font-size="9.2" text-anchor="end" fill="#3a3a3a" stroke="#3a3a3a" stroke-width="0.24" font-weight="normal" textLength="7.90" lengthAdjust="spacingAndGlyphs">80</text>
<line x1="357.90" y1="380.40" x2="361.00" y2="380.40" stroke="#050505" stroke-width="1.3"/>
<text x="355.00" y="383.56" font-size="9.2" text-anchor="end" fill="#3a3a3a" stroke="#3a3a3a" stroke-width="0.24" font-weight="normal" textLength="11.20" lengthAdjust="spacingAndGlyphs">100</text>
<line x1="361.00" y1="478.50" x2="440.80" y2="478.50" stroke="#050505" stroke-width="1.3"/>
<line x1="361.00" y1="478.50" x2="361.00" y2="481.10" stroke="#050505" stroke-width="1.3"/>
<line x1="399.40" y1="478.50" x2="399.40" y2="481.10" stroke="#050505" stroke-width="1.3"/>
<line x1="437.70" y1="478.50" x2="437.70" y2="481.10" stroke="#050505" stroke-width="1.3"/>
<text x="0" y="0" font-size="10.3" text-anchor="middle" fill="#3a3a3a" stroke="#3a3a3a" stroke-width="0.24" textLength="66.20" lengthAdjust="spacingAndGlyphs" transform="translate(336.00 428.30) rotate(-90)">% γH2Ax+ LSK cells</text>
<rect x="368.90" y="477.20" width="11.40" height="1.30" fill="#a6032a"/>
<line x1="374.60" y1="476.30" x2="374.60" y2="478.30" stroke="#050505" stroke-width="1.0"/>
<line x1="371.60" y1="476.30" x2="377.60" y2="476.30" stroke="#050505" stroke-width="1.1"/>
<line x1="371.60" y1="478.30" x2="377.60" y2="478.30" stroke="#050505" stroke-width="1.1"/>
<rect x="380.30" y="451.20" width="11.50" height="27.30" fill="#2f4b83"/>
<line x1="386.05" y1="442.60" x2="386.05" y2="461.40" stroke="#050505" stroke-width="1.0"/>
<line x1="383.05" y1="442.60" x2="389.05" y2="442.60" stroke="#050505" stroke-width="1.1"/>
<line x1="383.05" y1="461.40" x2="389.05" y2="461.40" stroke="#050505" stroke-width="1.1"/>
<rect x="407.60" y="418.10" width="11.30" height="60.40" fill="#a6032a"/>
<line x1="413.25" y1="409.60" x2="413.25" y2="427.00" stroke="#050505" stroke-width="1.0"/>
<line x1="410.25" y1="409.60" x2="416.25" y2="409.60" stroke="#050505" stroke-width="1.1"/>
<line x1="410.25" y1="427.00" x2="416.25" y2="427.00" stroke="#050505" stroke-width="1.1"/>
<rect x="418.90" y="388.50" width="11.40" height="90.00" fill="#2f4b83"/>
<line x1="424.60" y1="385.00" x2="424.60" y2="393.00" stroke="#050505" stroke-width="1.0"/>
<line x1="421.60" y1="385.00" x2="427.60" y2="385.00" stroke="#050505" stroke-width="1.1"/>
<line x1="421.60" y1="393.00" x2="427.60" y2="393.00" stroke="#050505" stroke-width="1.1"/>
<text x="386.00" y="442.85" font-size="7.6" text-anchor="middle" fill="#222" stroke="#222" stroke-width="0.24" font-weight="normal">*</text>
<text x="424.60" y="385.25" font-size="7.6" text-anchor="middle" fill="#222" stroke="#222" stroke-width="0.24" font-weight="normal">*</text>
<text x="380.60" y="492.10" font-size="8.3" text-anchor="middle" fill="#3a3a3a" stroke="#3a3a3a" stroke-width="0.24" font-weight="normal" textLength="22.90" lengthAdjust="spacingAndGlyphs">G0/G1</text>
<text x="417.55" y="492.10" font-size="8.3" text-anchor="middle" fill="#3a3a3a" stroke="#3a3a3a" stroke-width="0.24" font-weight="normal" textLength="17.60" lengthAdjust="spacingAndGlyphs">S/G2</text>
<text x="7.30" y="520.00" font-size="11.6" text-anchor="start" fill="#0e0e0e" font-weight="bold">F</text>
<path d="M61.50,634.30 C61.78,633.08 62.68,629.88 63.20,627.00 C63.72,624.12 64.10,620.83 64.60,617.00 C65.10,613.17 65.70,608.17 66.20,604.00 C66.70,599.83 67.15,596.17 67.60,592.00 C68.05,587.83 68.45,583.33 68.90,579.00 C69.35,574.67 69.83,570.00 70.30,566.00 C70.77,562.00 71.25,558.25 71.70,555.00 C72.15,551.75 72.58,548.58 73.00,546.50 C73.42,544.42 73.82,542.58 74.20,542.50 C74.58,542.42 74.93,543.75 75.30,546.00 C75.67,548.25 76.07,552.00 76.40,556.00 C76.73,560.00 77.00,565.33 77.30,570.00 C77.60,574.67 77.87,579.00 78.20,584.00 C78.53,589.00 78.90,594.83 79.30,600.00 C79.70,605.17 80.15,610.67 80.60,615.00 C81.05,619.33 81.55,623.25 82.00,626.00 C82.45,628.75 82.87,630.12 83.30,631.50 C83.73,632.88 84.38,633.83 84.60,634.30 Z" fill="#a6032a"/>
<path d="M19.40,634.00 C24.50,634.00 43.73,634.03 50.00,634.00 C56.27,633.97 55.25,633.97 57.00,633.80 C58.75,633.63 59.50,633.47 60.50,633.00 C61.50,632.53 62.28,631.75 63.00,631.00 C63.72,630.25 64.25,629.58 64.80,628.50 C65.35,627.42 65.85,625.78 66.30,624.50 C66.75,623.22 67.13,621.52 67.50,620.80 C67.87,620.08 68.15,620.08 68.50,620.20 C68.85,620.32 69.22,620.78 69.60,621.50 C69.98,622.22 70.40,623.83 70.80,624.50 C71.20,625.17 71.60,626.00 72.00,625.50 C72.40,625.00 72.80,623.75 73.20,621.50 C73.60,619.25 74.00,615.92 74.40,612.00 C74.80,608.08 75.22,603.00 75.60,598.00 C75.98,593.00 76.35,587.00 76.70,582.00 C77.05,577.00 77.38,571.92 77.70,568.00 C78.02,564.08 78.28,560.63 78.60,558.50 C78.92,556.37 79.27,555.45 79.60,555.20 C79.93,554.95 80.27,555.20 80.60,557.00 C80.93,558.80 81.25,561.83 81.60,566.00 C81.95,570.17 82.33,576.67 82.70,582.00 C83.07,587.33 83.40,592.73 83.80,598.00 C84.20,603.27 84.68,609.35 85.10,613.60 C85.52,617.85 85.88,620.90 86.30,623.50 C86.72,626.10 87.10,628.07 87.60,629.20 C88.10,630.33 88.68,630.15 89.30,630.30 C89.92,630.45 90.62,630.18 91.30,630.10 C91.98,630.02 92.77,629.68 93.40,629.80 C94.03,629.92 94.57,630.27 95.10,630.80 C95.63,631.33 96.08,632.47 96.60,633.00 C97.12,633.53 95.97,633.83 98.20,634.00 C100.43,634.17 108.03,634.00 110.00,634.00" fill="none" stroke="#2b3f6e" stroke-width="1.6" stroke-linejoin="round" stroke-linecap="round"/>
<rect x="18.70" y="532.60" width="91.70" height="101.70" fill="none" stroke="#050505" stroke-width="1.55"/>
<line x1="15.50" y1="532.70" x2="18.70" y2="532.70" stroke="#050505" stroke-width="1.2"/>
<line x1="16.90" y1="541.15" x2="18.70" y2="541.15" stroke="#050505" stroke-width="1.0"/>
<line x1="16.90" y1="549.60" x2="18.70" y2="549.60" stroke="#050505" stroke-width="1.0"/>
<line x1="16.90" y1="558.05" x2="18.70" y2="558.05" stroke="#050505" stroke-width="1.0"/>
<line x1="15.50" y1="566.50" x2="18.70" y2="566.50" stroke="#050505" stroke-width="1.2"/>
<line x1="16.90" y1="574.95" x2="18.70" y2="574.95" stroke="#050505" stroke-width="1.0"/>
<line x1="16.90" y1="583.40" x2="18.70" y2="583.40" stroke="#050505" stroke-width="1.0"/>
<line x1="16.90" y1="591.85" x2="18.70" y2="591.85" stroke="#050505" stroke-width="1.0"/>
<line x1="15.50" y1="600.30" x2="18.70" y2="600.30" stroke="#050505" stroke-width="1.2"/>
<line x1="16.90" y1="608.80" x2="18.70" y2="608.80" stroke="#050505" stroke-width="1.0"/>
<line x1="16.90" y1="617.30" x2="18.70" y2="617.30" stroke="#050505" stroke-width="1.0"/>
<line x1="16.90" y1="625.80" x2="18.70" y2="625.80" stroke="#050505" stroke-width="1.0"/>
<line x1="15.50" y1="634.30" x2="18.70" y2="634.30" stroke="#050505" stroke-width="1.2"/>
<line x1="20.50" y1="634.30" x2="20.50" y2="636.70" stroke="#050505" stroke-width="1.1"/>
<line x1="37.50" y1="634.30" x2="37.50" y2="636.70" stroke="#050505" stroke-width="1.1"/>
<line x1="54.50" y1="634.30" x2="54.50" y2="636.70" stroke="#050505" stroke-width="1.1"/>
<line x1="71.50" y1="634.30" x2="71.50" y2="636.70" stroke="#050505" stroke-width="1.1"/>
<line x1="88.50" y1="634.30" x2="88.50" y2="636.70" stroke="#050505" stroke-width="1.1"/>
<line x1="105.50" y1="634.30" x2="105.50" y2="636.70" stroke="#050505" stroke-width="1.1"/>
<line x1="25.62" y1="634.30" x2="25.62" y2="635.70" stroke="#050505" stroke-width="0.9"/>
<line x1="28.61" y1="634.30" x2="28.61" y2="635.70" stroke="#050505" stroke-width="0.9"/>
<line x1="30.74" y1="634.30" x2="30.74" y2="635.70" stroke="#050505" stroke-width="0.9"/>
<line x1="32.38" y1="634.30" x2="32.38" y2="635.70" stroke="#050505" stroke-width="0.9"/>
<line x1="33.73" y1="634.30" x2="33.73" y2="635.70" stroke="#050505" stroke-width="0.9"/>
<line x1="34.87" y1="634.30" x2="34.87" y2="635.70" stroke="#050505" stroke-width="0.9"/>
<line x1="35.85" y1="634.30" x2="35.85" y2="635.70" stroke="#050505" stroke-width="0.9"/>
<line x1="36.72" y1="634.30" x2="36.72" y2="635.70" stroke="#050505" stroke-width="0.9"/>
<line x1="42.62" y1="634.30" x2="42.62" y2="635.70" stroke="#050505" stroke-width="0.9"/>
<line x1="45.61" y1="634.30" x2="45.61" y2="635.70" stroke="#050505" stroke-width="0.9"/>
<line x1="47.74" y1="634.30" x2="47.74" y2="635.70" stroke="#050505" stroke-width="0.9"/>
<line x1="49.38" y1="634.30" x2="49.38" y2="635.70" stroke="#050505" stroke-width="0.9"/>
<line x1="50.73" y1="634.30" x2="50.73" y2="635.70" stroke="#050505" stroke-width="0.9"/>
<line x1="51.87" y1="634.30" x2="51.87" y2="635.70" stroke="#050505" stroke-width="0.9"/>
<line x1="52.85" y1="634.30" x2="52.85" y2="635.70" stroke="#050505" stroke-width="0.9"/>
<line x1="53.72" y1="634.30" x2="53.72" y2="635.70" stroke="#050505" stroke-width="0.9"/>
<line x1="59.62" y1="634.30" x2="59.62" y2="635.70" stroke="#050505" stroke-width="0.9"/>
<line x1="62.61" y1="634.30" x2="62.61" y2="635.70" stroke="#050505" stroke-width="0.9"/>
<line x1="64.74" y1="634.30" x2="64.74" y2="635.70" stroke="#050505" stroke-width="0.9"/>
<line x1="66.38" y1="634.30" x2="66.38" y2="635.70" stroke="#050505" stroke-width="0.9"/>
<line x1="67.73" y1="634.30" x2="67.73" y2="635.70" stroke="#050505" stroke-width="0.9"/>
<line x1="68.87" y1="634.30" x2="68.87" y2="635.70" stroke="#050505" stroke-width="0.9"/>
<line x1="69.85" y1="634.30" x2="69.85" y2="635.70" stroke="#050505" stroke-width="0.9"/>
<line x1="70.72" y1="634.30" x2="70.72" y2="635.70" stroke="#050505" stroke-width="0.9"/>
<line x1="76.62" y1="634.30" x2="76.62" y2="635.70" stroke="#050505" stroke-width="0.9"/>
<line x1="79.61" y1="634.30" x2="79.61" y2="635.70" stroke="#050505" stroke-width="0.9"/>
<line x1="81.74" y1="634.30" x2="81.74" y2="635.70" stroke="#050505" stroke-width="0.9"/>
<line x1="83.38" y1="634.30" x2="83.38" y2="635.70" stroke="#050505" stroke-width="0.9"/>
<line x1="84.73" y1="634.30" x2="84.73" y2="635.70" stroke="#050505" stroke-width="0.9"/>
<line x1="85.87" y1="634.30" x2="85.87" y2="635.70" stroke="#050505" stroke-width="0.9"/>
<line x1="86.85" y1="634.30" x2="86.85" y2="635.70" stroke="#050505" stroke-width="0.9"/>
<line x1="87.72" y1="634.30" x2="87.72" y2="635.70" stroke="#050505" stroke-width="0.9"/>
<line x1="93.62" y1="634.30" x2="93.62" y2="635.70" stroke="#050505" stroke-width="0.9"/>
<line x1="96.61" y1="634.30" x2="96.61" y2="635.70" stroke="#050505" stroke-width="0.9"/>
<line x1="98.74" y1="634.30" x2="98.74" y2="635.70" stroke="#050505" stroke-width="0.9"/>
<line x1="100.38" y1="634.30" x2="100.38" y2="635.70" stroke="#050505" stroke-width="0.9"/>
<line x1="101.73" y1="634.30" x2="101.73" y2="635.70" stroke="#050505" stroke-width="0.9"/>
<line x1="102.87" y1="634.30" x2="102.87" y2="635.70" stroke="#050505" stroke-width="0.9"/>
<line x1="103.85" y1="634.30" x2="103.85" y2="635.70" stroke="#050505" stroke-width="0.9"/>
<line x1="104.72" y1="634.30" x2="104.72" y2="635.70" stroke="#050505" stroke-width="0.9"/>
<text x="64.95" y="543.00" font-size="8.3" text-anchor="middle" fill="#3a3a3a" stroke="#3a3a3a" stroke-width="0.24" font-weight="normal" textLength="37.20" lengthAdjust="spacingAndGlyphs">HSC Gated</text>
<text x="64.85" y="649.00" font-size="11.0" text-anchor="middle" fill="#3a3a3a" stroke="#3a3a3a" stroke-width="0.24" font-weight="normal" textLength="13.80" lengthAdjust="spacingAndGlyphs">ROS</text>
<text x="117.85" y="527.40" font-size="11.0" text-anchor="middle" fill="#333333" stroke="#333333" stroke-width="0.1" font-weight="normal" textLength="18.20" lengthAdjust="spacingAndGlyphs">ROS</text>
<line x1="156.20" y1="537.70" x2="156.20" y2="634.40" stroke="#050505" stroke-width="1.3"/>
<line x1="153.10" y1="634.40" x2="156.20" y2="634.40" stroke="#050505" stroke-width="1.3"/>
<text x="150.00" y="637.56" font-size="9.2" text-anchor="end" fill="#3a3a3a" stroke="#3a3a3a" stroke-width="0.24" font-weight="normal" textLength="3.70" lengthAdjust="spacingAndGlyphs">0</text>
<line x1="153.10" y1="621.03" x2="156.20" y2="621.03" stroke="#050505" stroke-width="1.3"/>
<text x="150.00" y="624.19" font-size="9.2" text-anchor="end" fill="#3a3a3a" stroke="#3a3a3a" stroke-width="0.24" font-weight="normal" textLength="16.30" lengthAdjust="spacingAndGlyphs">2000</text>
<line x1="153.10" y1="607.66" x2="156.20" y2="607.66" stroke="#050505" stroke-width="1.3"/>
<text x="150.00" y="610.82" font-size="9.2" text-anchor="end" fill="#3a3a3a" stroke="#3a3a3a" stroke-width="0.24" font-weight="normal" textLength="16.30" lengthAdjust="spacingAndGlyphs">4000</text>
<line x1="153.10" y1="594.29" x2="156.20" y2="594.29" stroke="#050505" stroke-width="1.3"/>
<text x="150.00" y="597.45" font-size="9.2" text-anchor="end" fill="#3a3a3a" stroke="#3a3a3a" stroke-width="0.24" font-weight="normal" textLength="16.30" lengthAdjust="spacingAndGlyphs">6000</text>
<line x1="153.10" y1="580.91" x2="156.20" y2="580.91" stroke="#050505" stroke-width="1.3"/>
<text x="150.00" y="584.08" font-size="9.2" text-anchor="end" fill="#3a3a3a" stroke="#3a3a3a" stroke-width="0.24" font-weight="normal" textLength="16.30" lengthAdjust="spacingAndGlyphs">8000</text>
<line x1="153.10" y1="567.54" x2="156.20" y2="567.54" stroke="#050505" stroke-width="1.3"/>
<text x="150.00" y="570.71" font-size="9.2" text-anchor="end" fill="#3a3a3a" stroke="#3a3a3a" stroke-width="0.24" font-weight="normal" textLength="19.60" lengthAdjust="spacingAndGlyphs">10000</text>
<line x1="153.10" y1="554.17" x2="156.20" y2="554.17" stroke="#050505" stroke-width="1.3"/>
<text x="150.00" y="557.34" font-size="9.2" text-anchor="end" fill="#3a3a3a" stroke="#3a3a3a" stroke-width="0.24" font-weight="normal" textLength="19.60" lengthAdjust="spacingAndGlyphs">12000</text>
<line x1="153.10" y1="540.80" x2="156.20" y2="540.80" stroke="#050505" stroke-width="1.3"/>
<text x="150.00" y="543.96" font-size="9.2" text-anchor="end" fill="#3a3a3a" stroke="#3a3a3a" stroke-width="0.24" font-weight="normal" textLength="19.60" lengthAdjust="spacingAndGlyphs">14000</text>
<line x1="156.20" y1="634.40" x2="229.80" y2="634.40" stroke="#050505" stroke-width="1.3"/>
<line x1="156.20" y1="634.40" x2="156.20" y2="637.00" stroke="#050505" stroke-width="1.3"/>
<line x1="226.80" y1="634.40" x2="226.80" y2="637.00" stroke="#050505" stroke-width="1.3"/>
<text x="0" y="0" font-size="10.3" text-anchor="middle" fill="#3a3a3a" stroke="#3a3a3a" stroke-width="0.24" textLength="52.00" lengthAdjust="spacingAndGlyphs" transform="translate(125.60 585.90) rotate(-90)">ROS MFI in HSC</text>
<rect x="171.40" y="593.30" width="20.10" height="41.10" fill="#a6032a"/>
<line x1="181.45" y1="585.20" x2="181.45" y2="602.50" stroke="#050505" stroke-width="1.0"/>
<line x1="178.25" y1="585.20" x2="184.65" y2="585.20" stroke="#050505" stroke-width="1.1"/>
<line x1="178.25" y1="602.50" x2="184.65" y2="602.50" stroke="#050505" stroke-width="1.1"/>
<rect x="191.50" y="563.70" width="19.70" height="70.70" fill="#2f4b83"/>
<line x1="201.35" y1="555.60" x2="201.35" y2="572.80" stroke="#050505" stroke-width="1.0"/>
<line x1="198.15" y1="555.60" x2="204.55" y2="555.60" stroke="#050505" stroke-width="1.1"/>
<line x1="198.15" y1="572.80" x2="204.55" y2="572.80" stroke="#050505" stroke-width="1.1"/>
<text x="201.30" y="556.15" font-size="7.6" text-anchor="middle" fill="#222" stroke="#222" stroke-width="0.24" font-weight="normal">**</text>
<text x="245.30" y="520.40" font-size="11.6" text-anchor="start" fill="#0e0e0e" font-weight="bold">G</text>
<text x="344.50" y="528.00" font-size="11.0" text-anchor="middle" fill="#333333" stroke="#333333" stroke-width="0.1" font-weight="normal" textLength="40.70" lengthAdjust="spacingAndGlyphs">AnnexinV</text>
<line x1="279.40" y1="538.80" x2="279.40" y2="634.30" stroke="#050505" stroke-width="1.3"/>
<line x1="276.30" y1="634.30" x2="279.40" y2="634.30" stroke="#050505" stroke-width="1.3"/>
<text x="272.90" y="637.46" font-size="9.2" text-anchor="end" fill="#3a3a3a" stroke="#3a3a3a" stroke-width="0.24" font-weight="normal" textLength="3.70" lengthAdjust="spacingAndGlyphs">0</text>
<line x1="276.30" y1="622.69" x2="279.40" y2="622.69" stroke="#050505" stroke-width="1.3"/>
<text x="272.90" y="625.85" font-size="9.2" text-anchor="end" fill="#3a3a3a" stroke="#3a3a3a" stroke-width="0.24" font-weight="normal" textLength="3.70" lengthAdjust="spacingAndGlyphs">5</text>
<line x1="276.30" y1="611.07" x2="279.40" y2="611.07" stroke="#050505" stroke-width="1.3"/>
<text x="272.90" y="614.24" font-size="9.2" text-anchor="end" fill="#3a3a3a" stroke="#3a3a3a" stroke-width="0.24" font-weight="normal" textLength="7.00" lengthAdjust="spacingAndGlyphs">10</text>
<line x1="276.30" y1="599.46" x2="279.40" y2="599.46" stroke="#050505" stroke-width="1.3"/>
<text x="272.90" y="602.63" font-size="9.2" text-anchor="end" fill="#3a3a3a" stroke="#3a3a3a" stroke-width="0.24" font-weight="normal" textLength="7.00" lengthAdjust="spacingAndGlyphs">15</text>
<line x1="276.30" y1="587.85" x2="279.40" y2="587.85" stroke="#050505" stroke-width="1.3"/>
<text x="272.90" y="591.01" font-size="9.2" text-anchor="end" fill="#3a3a3a" stroke="#3a3a3a" stroke-width="0.24" font-weight="normal" textLength="7.90" lengthAdjust="spacingAndGlyphs">20</text>
<line x1="276.30" y1="576.24" x2="279.40" y2="576.24" stroke="#050505" stroke-width="1.3"/>
<text x="272.90" y="579.40" font-size="9.2" text-anchor="end" fill="#3a3a3a" stroke="#3a3a3a" stroke-width="0.24" font-weight="normal" textLength="7.90" lengthAdjust="spacingAndGlyphs">25</text>
<line x1="276.30" y1="564.62" x2="279.40" y2="564.62" stroke="#050505" stroke-width="1.3"/>
<text x="272.90" y="567.79" font-size="9.2" text-anchor="end" fill="#3a3a3a" stroke="#3a3a3a" stroke-width="0.24" font-weight="normal" textLength="7.90" lengthAdjust="spacingAndGlyphs">30</text>
<line x1="276.30" y1="553.01" x2="279.40" y2="553.01" stroke="#050505" stroke-width="1.3"/>
<text x="272.90" y="556.18" font-size="9.2" text-anchor="end" fill="#3a3a3a" stroke="#3a3a3a" stroke-width="0.24" font-weight="normal" textLength="7.90" lengthAdjust="spacingAndGlyphs">35</text>
<line x1="276.30" y1="541.40" x2="279.40" y2="541.40" stroke="#050505" stroke-width="1.3"/>
<text x="272.90" y="544.56" font-size="9.2" text-anchor="end" fill="#3a3a3a" stroke="#3a3a3a" stroke-width="0.24" font-weight="normal" textLength="7.90" lengthAdjust="spacingAndGlyphs">40</text>
<line x1="279.40" y1="634.30" x2="409.60" y2="634.30" stroke="#050505" stroke-width="1.3"/>
<line x1="279.40" y1="634.30" x2="279.40" y2="636.90" stroke="#050505" stroke-width="1.3"/>
<line x1="311.20" y1="634.30" x2="311.20" y2="636.90" stroke="#050505" stroke-width="1.3"/>
<line x1="342.80" y1="634.30" x2="342.80" y2="636.90" stroke="#050505" stroke-width="1.3"/>
<line x1="374.60" y1="634.30" x2="374.60" y2="636.90" stroke="#050505" stroke-width="1.3"/>
<line x1="406.50" y1="634.30" x2="406.50" y2="636.90" stroke="#050505" stroke-width="1.3"/>
<text x="0" y="0" font-size="10.3" text-anchor="middle" fill="#3a3a3a" stroke="#3a3a3a" stroke-width="0.24" textLength="42.30" lengthAdjust="spacingAndGlyphs" transform="translate(260.80 586.95) rotate(-90)">% Annexin +</text>
<rect x="285.50" y="621.30" width="9.90" height="13.00" fill="#a6032a"/>
<line x1="290.45" y1="610.50" x2="290.45" y2="632.70" stroke="#050505" stroke-width="1.0"/>
<line x1="287.45" y1="610.50" x2="293.45" y2="610.50" stroke="#050505" stroke-width="1.1"/>
<line x1="287.45" y1="632.70" x2="293.45" y2="632.70" stroke="#050505" stroke-width="1.1"/>
<rect x="295.40" y="617.30" width="9.20" height="17.00" fill="#2f4b83"/>
<line x1="300.00" y1="609.60" x2="300.00" y2="626.50" stroke="#050505" stroke-width="1.0"/>
<line x1="297.00" y1="609.60" x2="303.00" y2="609.60" stroke="#050505" stroke-width="1.1"/>
<line x1="297.00" y1="626.50" x2="303.00" y2="626.50" stroke="#050505" stroke-width="1.1"/>
<rect x="317.50" y="628.00" width="9.30" height="6.30" fill="#a6032a"/>
<line x1="322.15" y1="626.00" x2="322.15" y2="631.00" stroke="#050505" stroke-width="1.0"/>
<line x1="319.15" y1="626.00" x2="325.15" y2="626.00" stroke="#050505" stroke-width="1.1"/>
<line x1="319.15" y1="631.00" x2="325.15" y2="631.00" stroke="#050505" stroke-width="1.1"/>
<rect x="326.80" y="626.00" width="10.00" height="8.30" fill="#2f4b83"/>
<line x1="331.80" y1="620.40" x2="331.80" y2="631.20" stroke="#050505" stroke-width="1.0"/>
<line x1="328.80" y1="620.40" x2="334.80" y2="620.40" stroke="#050505" stroke-width="1.1"/>
<line x1="328.80" y1="631.20" x2="334.80" y2="631.20" stroke="#050505" stroke-width="1.1"/>
<rect x="349.80" y="602.80" width="10.00" height="31.50" fill="#a6032a"/>
<line x1="354.80" y1="592.00" x2="354.80" y2="614.20" stroke="#050505" stroke-width="1.0"/>
<line x1="351.80" y1="592.00" x2="357.80" y2="592.00" stroke="#050505" stroke-width="1.1"/>
<line x1="351.80" y1="614.20" x2="357.80" y2="614.20" stroke="#050505" stroke-width="1.1"/>
<rect x="359.80" y="597.50" width="9.20" height="36.80" fill="#2f4b83"/>
<line x1="364.40" y1="590.80" x2="364.40" y2="604.40" stroke="#050505" stroke-width="1.0"/>
<line x1="361.40" y1="590.80" x2="367.40" y2="590.80" stroke="#050505" stroke-width="1.1"/>
<line x1="361.40" y1="604.40" x2="367.40" y2="604.40" stroke="#050505" stroke-width="1.1"/>
<rect x="381.70" y="584.70" width="9.80" height="49.60" fill="#a6032a"/>
<line x1="386.60" y1="555.50" x2="386.60" y2="614.00" stroke="#050505" stroke-width="1.0"/>
<line x1="383.60" y1="555.50" x2="389.60" y2="555.50" stroke="#050505" stroke-width="1.1"/>
<line x1="383.60" y1="614.00" x2="389.60" y2="614.00" stroke="#050505" stroke-width="1.1"/>
<rect x="391.50" y="568.00" width="9.40" height="66.30" fill="#2f4b83"/>
<line x1="396.20" y1="547.50" x2="396.20" y2="588.00" stroke="#050505" stroke-width="1.0"/>
<line x1="393.20" y1="547.50" x2="399.20" y2="547.50" stroke="#050505" stroke-width="1.1"/>
<line x1="393.20" y1="588.00" x2="399.20" y2="588.00" stroke="#050505" stroke-width="1.1"/>
<text x="295.25" y="647.40" font-size="8.3" text-anchor="middle" fill="#3a3a3a" stroke="#3a3a3a" stroke-width="0.24" font-weight="normal" textLength="15.20" lengthAdjust="spacingAndGlyphs">HSC</text>
<text x="327.35" y="647.40" font-size="8.3" text-anchor="middle" fill="#3a3a3a" stroke="#3a3a3a" stroke-width="0.24" font-weight="normal" textLength="16.00" lengthAdjust="spacingAndGlyphs">MPP</text>
<text x="358.95" y="647.40" font-size="8.3" text-anchor="middle" fill="#3a3a3a" stroke="#3a3a3a" stroke-width="0.24" font-weight="normal" textLength="19.20" lengthAdjust="spacingAndGlyphs">HPC1</text>
<text x="391.20" y="647.40" font-size="8.3" text-anchor="middle" fill="#3a3a3a" stroke="#3a3a3a" stroke-width="0.24" font-weight="normal" textLength="19.70" lengthAdjust="spacingAndGlyphs">HPC2</text>
</svg>
<svg class="ov" width="520" height="658" viewBox="0 0 520 658">
<line x1="0" y1="0.7" x2="520" y2="0.7" stroke="#000" stroke-width="1.4"/>
<line x1="0.5" y1="0" x2="0.5" y2="658" stroke="#000" stroke-width="1.1"/>
<line x1="519.3" y1="0" x2="519.3" y2="658" stroke="#000" stroke-width="1.4"/>
<line x1="0" y1="657.1" x2="520" y2="657.1" stroke="#000" stroke-width="1.8"/>
</svg>
</body></html>
